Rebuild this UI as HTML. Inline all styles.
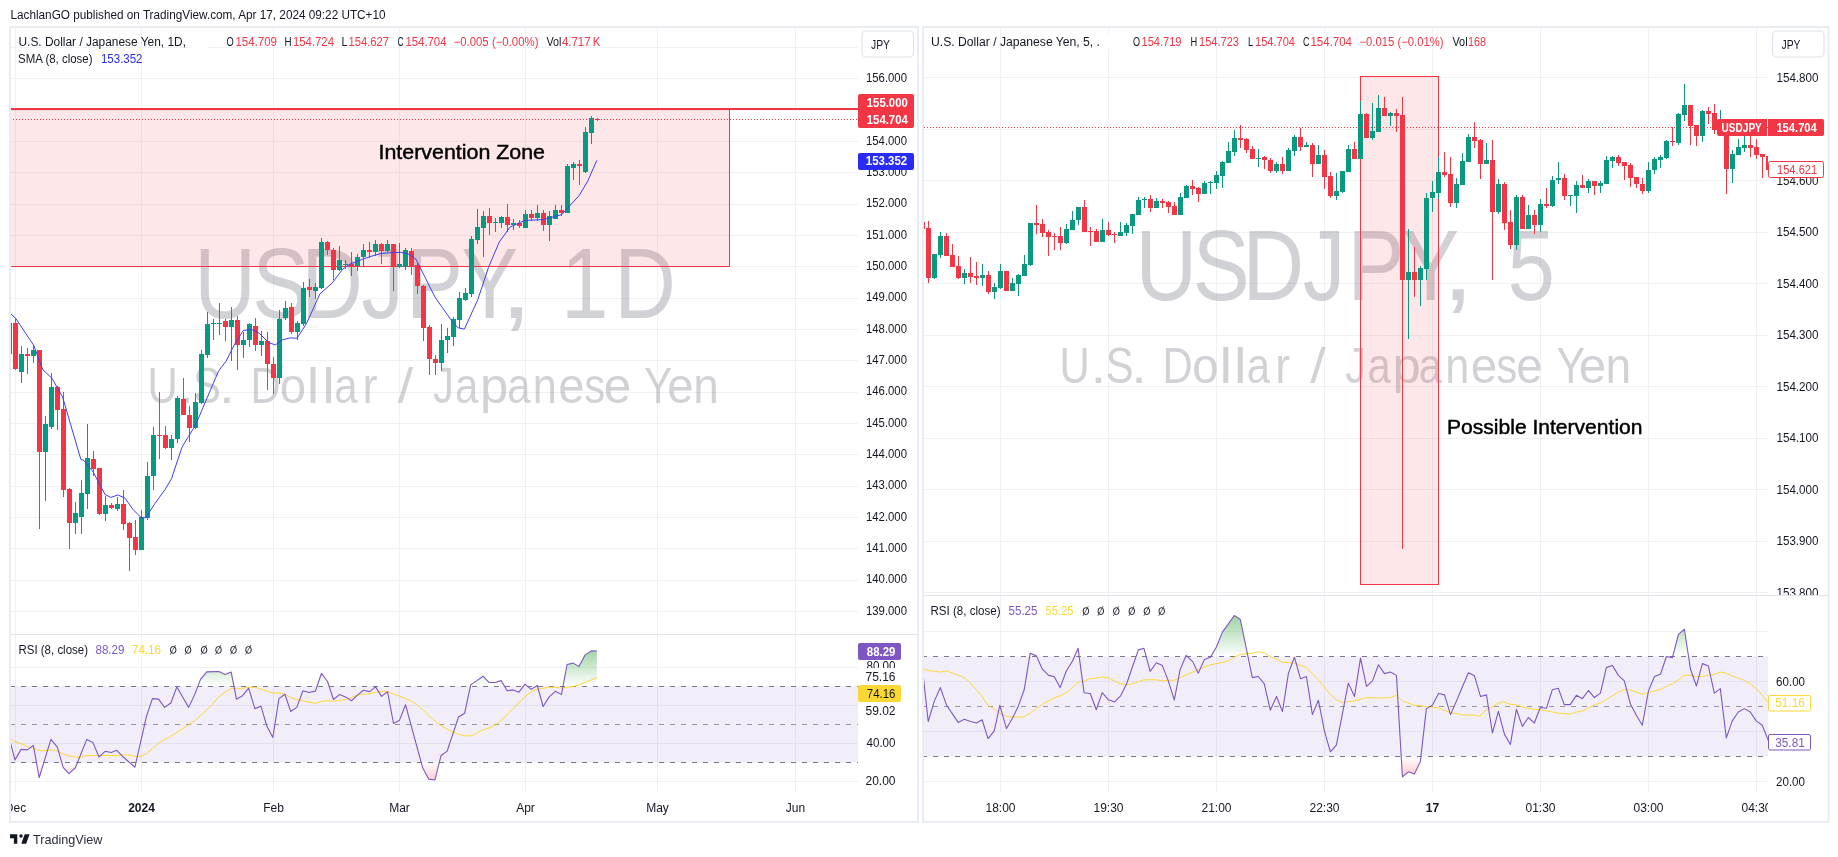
<!DOCTYPE html><html><head><meta charset="utf-8"><style>html,body{margin:0;padding:0;background:#fff;overflow:hidden}svg{display:block;will-change:transform}</style></head><body><svg width="1838" height="857" viewBox="0 0 1838 857" font-family="&quot;Liberation Sans&quot;, sans-serif">
<rect x="0" y="0" width="1838" height="857" fill="#ffffff"/>
<defs>
<clipPath id="cl"><rect x="10" y="28" width="848" height="606"/></clipPath>
<clipPath id="clr"><rect x="10" y="635" width="848" height="158"/></clipPath>
<clipPath id="cr"><rect x="924" y="28" width="844" height="567"/></clipPath>
<clipPath id="crr"><rect x="924" y="597" width="844" height="196"/></clipPath>
<linearGradient id="gg" x1="0" y1="0" x2="0" y2="1"><stop offset="0" stop-color="#4CAF50" stop-opacity="0.55"/><stop offset="1" stop-color="#4CAF50" stop-opacity="0"/></linearGradient>
<linearGradient id="rg" x1="0" y1="0" x2="0" y2="1"><stop offset="0" stop-color="#F23645" stop-opacity="0"/><stop offset="1" stop-color="#F23645" stop-opacity="0.35"/></linearGradient>
</defs>
<line x1="15.5" y1="28" x2="15.5" y2="793" stroke="#F0F1F3" stroke-width="1"/>
<line x1="141.5" y1="28" x2="141.5" y2="793" stroke="#F0F1F3" stroke-width="1"/>
<line x1="273.5" y1="28" x2="273.5" y2="793" stroke="#F0F1F3" stroke-width="1"/>
<line x1="399.5" y1="28" x2="399.5" y2="793" stroke="#F0F1F3" stroke-width="1"/>
<line x1="525.5" y1="28" x2="525.5" y2="793" stroke="#F0F1F3" stroke-width="1"/>
<line x1="657.5" y1="28" x2="657.5" y2="793" stroke="#F0F1F3" stroke-width="1"/>
<line x1="795.5" y1="28" x2="795.5" y2="793" stroke="#F0F1F3" stroke-width="1"/>
<line x1="10" y1="47.5" x2="858" y2="47.5" stroke="#F0F1F3" stroke-width="1"/>
<line x1="10" y1="78.5" x2="858" y2="78.5" stroke="#F0F1F3" stroke-width="1"/>
<line x1="10" y1="110.5" x2="858" y2="110.5" stroke="#F0F1F3" stroke-width="1"/>
<line x1="10" y1="141.5" x2="858" y2="141.5" stroke="#F0F1F3" stroke-width="1"/>
<line x1="10" y1="172.5" x2="858" y2="172.5" stroke="#F0F1F3" stroke-width="1"/>
<line x1="10" y1="204.5" x2="858" y2="204.5" stroke="#F0F1F3" stroke-width="1"/>
<line x1="10" y1="235.5" x2="858" y2="235.5" stroke="#F0F1F3" stroke-width="1"/>
<line x1="10" y1="266.5" x2="858" y2="266.5" stroke="#F0F1F3" stroke-width="1"/>
<line x1="10" y1="298.5" x2="858" y2="298.5" stroke="#F0F1F3" stroke-width="1"/>
<line x1="10" y1="329.5" x2="858" y2="329.5" stroke="#F0F1F3" stroke-width="1"/>
<line x1="10" y1="360.5" x2="858" y2="360.5" stroke="#F0F1F3" stroke-width="1"/>
<line x1="10" y1="392.5" x2="858" y2="392.5" stroke="#F0F1F3" stroke-width="1"/>
<line x1="10" y1="423.5" x2="858" y2="423.5" stroke="#F0F1F3" stroke-width="1"/>
<line x1="10" y1="454.5" x2="858" y2="454.5" stroke="#F0F1F3" stroke-width="1"/>
<line x1="10" y1="486.5" x2="858" y2="486.5" stroke="#F0F1F3" stroke-width="1"/>
<line x1="10" y1="517.5" x2="858" y2="517.5" stroke="#F0F1F3" stroke-width="1"/>
<line x1="10" y1="548.5" x2="858" y2="548.5" stroke="#F0F1F3" stroke-width="1"/>
<line x1="10" y1="580.5" x2="858" y2="580.5" stroke="#F0F1F3" stroke-width="1"/>
<line x1="10" y1="611.5" x2="858" y2="611.5" stroke="#F0F1F3" stroke-width="1"/>
<line x1="10" y1="667.5" x2="858" y2="667.5" stroke="#F0F1F3" stroke-width="1"/>
<line x1="10" y1="705.5" x2="858" y2="705.5" stroke="#F0F1F3" stroke-width="1"/>
<line x1="10" y1="743.5" x2="858" y2="743.5" stroke="#F0F1F3" stroke-width="1"/>
<line x1="10" y1="781.5" x2="858" y2="781.5" stroke="#F0F1F3" stroke-width="1"/>
<line x1="1000.5" y1="28" x2="1000.5" y2="793" stroke="#F0F1F3" stroke-width="1"/>
<line x1="1108.5" y1="28" x2="1108.5" y2="793" stroke="#F0F1F3" stroke-width="1"/>
<line x1="1216.5" y1="28" x2="1216.5" y2="793" stroke="#F0F1F3" stroke-width="1"/>
<line x1="1324.5" y1="28" x2="1324.5" y2="793" stroke="#F0F1F3" stroke-width="1"/>
<line x1="1432.5" y1="28" x2="1432.5" y2="793" stroke="#F0F1F3" stroke-width="1"/>
<line x1="1540.5" y1="28" x2="1540.5" y2="793" stroke="#F0F1F3" stroke-width="1"/>
<line x1="1648.5" y1="28" x2="1648.5" y2="793" stroke="#F0F1F3" stroke-width="1"/>
<line x1="1756.5" y1="28" x2="1756.5" y2="793" stroke="#F0F1F3" stroke-width="1"/>
<line x1="924" y1="77.5" x2="1768" y2="77.5" stroke="#F0F1F3" stroke-width="1"/>
<line x1="924" y1="129.5" x2="1768" y2="129.5" stroke="#F0F1F3" stroke-width="1"/>
<line x1="924" y1="180.5" x2="1768" y2="180.5" stroke="#F0F1F3" stroke-width="1"/>
<line x1="924" y1="232.5" x2="1768" y2="232.5" stroke="#F0F1F3" stroke-width="1"/>
<line x1="924" y1="283.5" x2="1768" y2="283.5" stroke="#F0F1F3" stroke-width="1"/>
<line x1="924" y1="335.5" x2="1768" y2="335.5" stroke="#F0F1F3" stroke-width="1"/>
<line x1="924" y1="386.5" x2="1768" y2="386.5" stroke="#F0F1F3" stroke-width="1"/>
<line x1="924" y1="438.5" x2="1768" y2="438.5" stroke="#F0F1F3" stroke-width="1"/>
<line x1="924" y1="489.5" x2="1768" y2="489.5" stroke="#F0F1F3" stroke-width="1"/>
<line x1="924" y1="541.5" x2="1768" y2="541.5" stroke="#F0F1F3" stroke-width="1"/>
<line x1="924" y1="592.5" x2="1768" y2="592.5" stroke="#F0F1F3" stroke-width="1"/>
<line x1="924" y1="631.5" x2="1768" y2="631.5" stroke="#F0F1F3" stroke-width="1"/>
<line x1="924" y1="681.5" x2="1768" y2="681.5" stroke="#F0F1F3" stroke-width="1"/>
<line x1="924" y1="731.5" x2="1768" y2="731.5" stroke="#F0F1F3" stroke-width="1"/>
<line x1="924" y1="781.5" x2="1768" y2="781.5" stroke="#F0F1F3" stroke-width="1"/>
<g clip-path="url(#cl)">
<text x="194.37" y="318.3" font-size="100.5" fill="rgba(120,123,134,0.34)" textLength="61.69" lengthAdjust="spacingAndGlyphs">U</text>
<text x="252.19" y="318.3" font-size="100.5" fill="rgba(120,123,134,0.34)" textLength="56.98" lengthAdjust="spacingAndGlyphs">S</text>
<text x="301.35" y="318.3" font-size="100.5" fill="rgba(120,123,134,0.34)" textLength="61.69" lengthAdjust="spacingAndGlyphs">D</text>
<text x="361.19" y="318.3" font-size="100.5" fill="rgba(120,123,134,0.34)" textLength="42.71" lengthAdjust="spacingAndGlyphs">J</text>
<text x="405.94" y="318.3" font-size="100.5" fill="rgba(120,123,134,0.34)" textLength="56.98" lengthAdjust="spacingAndGlyphs">P</text>
<text x="461.24" y="318.3" font-size="100.5" fill="rgba(120,123,134,0.34)" textLength="56.98" lengthAdjust="spacingAndGlyphs">Y</text>
<text x="500.33" y="318.3" font-size="100.5" fill="rgba(120,123,134,0.34)" textLength="32.11" lengthAdjust="spacingAndGlyphs">,</text>
<text x="560.88" y="318.3" font-size="100.5" fill="rgba(120,123,134,0.34)" textLength="47.51" lengthAdjust="spacingAndGlyphs">1</text>
<text x="614.21" y="318.3" font-size="100.5" fill="rgba(120,123,134,0.34)" textLength="61.69" lengthAdjust="spacingAndGlyphs">D</text>
<text x="147.47" y="402.7" font-size="49.2" fill="rgba(120,123,134,0.34)" textLength="30.2" lengthAdjust="spacingAndGlyphs">U</text>
<text x="178.18" y="402.7" font-size="49.2" fill="rgba(120,123,134,0.34)" textLength="15.72" lengthAdjust="spacingAndGlyphs">.</text>
<text x="193.07" y="402.7" font-size="49.2" fill="rgba(120,123,134,0.34)" textLength="27.89" lengthAdjust="spacingAndGlyphs">S</text>
<text x="219.14" y="402.7" font-size="49.2" fill="rgba(120,123,134,0.34)" textLength="15.72" lengthAdjust="spacingAndGlyphs">.</text>
<text x="250.53" y="402.7" font-size="49.2" fill="rgba(120,123,134,0.34)" textLength="30.2" lengthAdjust="spacingAndGlyphs">D</text>
<text x="279.8" y="402.7" font-size="49.2" fill="rgba(120,123,134,0.34)" textLength="26.32" lengthAdjust="spacingAndGlyphs">o</text>
<text x="306.83" y="402.7" font-size="49.2" fill="rgba(120,123,134,0.34)" textLength="12.57" lengthAdjust="spacingAndGlyphs">l</text>
<text x="322.36" y="402.7" font-size="49.2" fill="rgba(120,123,134,0.34)" textLength="12.57" lengthAdjust="spacingAndGlyphs">l</text>
<text x="334.3" y="402.7" font-size="49.2" fill="rgba(120,123,134,0.34)" textLength="23.26" lengthAdjust="spacingAndGlyphs">a</text>
<text x="362.49" y="402.7" font-size="49.2" fill="rgba(120,123,134,0.34)" textLength="15.11" lengthAdjust="spacingAndGlyphs">r</text>
<text x="397.72" y="402.7" font-size="49.2" fill="rgba(120,123,134,0.34)" textLength="15.52" lengthAdjust="spacingAndGlyphs">/</text>
<text x="432.92" y="402.7" font-size="49.2" fill="rgba(120,123,134,0.34)" textLength="20.91" lengthAdjust="spacingAndGlyphs">J</text>
<text x="455.03" y="402.7" font-size="49.2" fill="rgba(120,123,134,0.34)" textLength="23.26" lengthAdjust="spacingAndGlyphs">a</text>
<text x="480.03" y="402.7" font-size="49.2" fill="rgba(120,123,134,0.34)" textLength="28.29" lengthAdjust="spacingAndGlyphs">p</text>
<text x="507.27" y="402.7" font-size="49.2" fill="rgba(120,123,134,0.34)" textLength="23.26" lengthAdjust="spacingAndGlyphs">a</text>
<text x="532.64" y="402.7" font-size="49.2" fill="rgba(120,123,134,0.34)" textLength="24.13" lengthAdjust="spacingAndGlyphs">n</text>
<text x="558.32" y="402.7" font-size="49.2" fill="rgba(120,123,134,0.34)" textLength="26.32" lengthAdjust="spacingAndGlyphs">e</text>
<text x="584.31" y="402.7" font-size="49.2" fill="rgba(120,123,134,0.34)" textLength="20.91" lengthAdjust="spacingAndGlyphs">s</text>
<text x="603.73" y="402.7" font-size="49.2" fill="rgba(120,123,134,0.34)" textLength="27.47" lengthAdjust="spacingAndGlyphs">e</text>
<text x="644.3" y="402.7" font-size="49.2" fill="rgba(120,123,134,0.34)" textLength="27.89" lengthAdjust="spacingAndGlyphs">Y</text>
<text x="667.31" y="402.7" font-size="49.2" fill="rgba(120,123,134,0.34)" textLength="26.32" lengthAdjust="spacingAndGlyphs">e</text>
<text x="693.2" y="402.7" font-size="49.2" fill="rgba(120,123,134,0.34)" textLength="25.56" lengthAdjust="spacingAndGlyphs">n</text>
</g>
<g clip-path="url(#cr)">
<text x="1135.4" y="299.6" font-size="100.5" fill="rgba(120,123,134,0.34)" textLength="61.69" lengthAdjust="spacingAndGlyphs">U</text>
<text x="1192.74" y="299.6" font-size="100.5" fill="rgba(120,123,134,0.34)" textLength="56.98" lengthAdjust="spacingAndGlyphs">S</text>
<text x="1242.38" y="299.6" font-size="100.5" fill="rgba(120,123,134,0.34)" textLength="61.69" lengthAdjust="spacingAndGlyphs">D</text>
<text x="1302.72" y="299.6" font-size="100.5" fill="rgba(120,123,134,0.34)" textLength="42.71" lengthAdjust="spacingAndGlyphs">J</text>
<text x="1347.47" y="299.6" font-size="100.5" fill="rgba(120,123,134,0.34)" textLength="56.98" lengthAdjust="spacingAndGlyphs">P</text>
<text x="1402.25" y="299.6" font-size="100.5" fill="rgba(120,123,134,0.34)" textLength="56.98" lengthAdjust="spacingAndGlyphs">Y</text>
<text x="1441.94" y="299.6" font-size="100.5" fill="rgba(120,123,134,0.34)" textLength="32.11" lengthAdjust="spacingAndGlyphs">,</text>
<text x="1507.56" y="299.6" font-size="100.5" fill="rgba(120,123,134,0.34)" textLength="47.51" lengthAdjust="spacingAndGlyphs">5</text>
<text x="1059.42" y="382.7" font-size="49.2" fill="rgba(120,123,134,0.34)" textLength="30.2" lengthAdjust="spacingAndGlyphs">U</text>
<text x="1090.64" y="382.7" font-size="49.2" fill="rgba(120,123,134,0.34)" textLength="15.72" lengthAdjust="spacingAndGlyphs">.</text>
<text x="1105.7" y="382.7" font-size="49.2" fill="rgba(120,123,134,0.34)" textLength="27.89" lengthAdjust="spacingAndGlyphs">S</text>
<text x="1131.34" y="382.7" font-size="49.2" fill="rgba(120,123,134,0.34)" textLength="15.72" lengthAdjust="spacingAndGlyphs">.</text>
<text x="1162.48" y="382.7" font-size="49.2" fill="rgba(120,123,134,0.34)" textLength="30.2" lengthAdjust="spacingAndGlyphs">D</text>
<text x="1192.32" y="382.7" font-size="49.2" fill="rgba(120,123,134,0.34)" textLength="26.32" lengthAdjust="spacingAndGlyphs">o</text>
<text x="1219.45" y="382.7" font-size="49.2" fill="rgba(120,123,134,0.34)" textLength="12.57" lengthAdjust="spacingAndGlyphs">l</text>
<text x="1233.99" y="382.7" font-size="49.2" fill="rgba(120,123,134,0.34)" textLength="12.57" lengthAdjust="spacingAndGlyphs">l</text>
<text x="1246.73" y="382.7" font-size="49.2" fill="rgba(120,123,134,0.34)" textLength="23.26" lengthAdjust="spacingAndGlyphs">a</text>
<text x="1275.18" y="382.7" font-size="49.2" fill="rgba(120,123,134,0.34)" textLength="14.82" lengthAdjust="spacingAndGlyphs">r</text>
<text x="1310.23" y="382.7" font-size="49.2" fill="rgba(120,123,134,0.34)" textLength="15.52" lengthAdjust="spacingAndGlyphs">/</text>
<text x="1345.37" y="382.7" font-size="49.2" fill="rgba(120,123,134,0.34)" textLength="20.93" lengthAdjust="spacingAndGlyphs">J</text>
<text x="1367.56" y="382.7" font-size="49.2" fill="rgba(120,123,134,0.34)" textLength="23.26" lengthAdjust="spacingAndGlyphs">a</text>
<text x="1392.58" y="382.7" font-size="49.2" fill="rgba(120,123,134,0.34)" textLength="28.17" lengthAdjust="spacingAndGlyphs">p</text>
<text x="1418.8" y="382.7" font-size="49.2" fill="rgba(120,123,134,0.34)" textLength="23.26" lengthAdjust="spacingAndGlyphs">a</text>
<text x="1445.19" y="382.7" font-size="49.2" fill="rgba(120,123,134,0.34)" textLength="24.13" lengthAdjust="spacingAndGlyphs">n</text>
<text x="1470.81" y="382.7" font-size="49.2" fill="rgba(120,123,134,0.34)" textLength="26.42" lengthAdjust="spacingAndGlyphs">e</text>
<text x="1496.25" y="382.7" font-size="49.2" fill="rgba(120,123,134,0.34)" textLength="20.91" lengthAdjust="spacingAndGlyphs">s</text>
<text x="1516.32" y="382.7" font-size="49.2" fill="rgba(120,123,134,0.34)" textLength="26.32" lengthAdjust="spacingAndGlyphs">e</text>
<text x="1556.42" y="382.7" font-size="49.2" fill="rgba(120,123,134,0.34)" textLength="28.64" lengthAdjust="spacingAndGlyphs">Y</text>
<text x="1578.77" y="382.7" font-size="49.2" fill="rgba(120,123,134,0.34)" textLength="27.47" lengthAdjust="spacingAndGlyphs">e</text>
<text x="1605.58" y="382.7" font-size="49.2" fill="rgba(120,123,134,0.34)" textLength="25.7" lengthAdjust="spacingAndGlyphs">n</text>
</g>
<rect x="10" y="109" width="719" height="157" fill="rgba(242,54,69,0.12)"/>
<line x1="729.5" y1="109" x2="729.5" y2="266.5" stroke="#F23645" stroke-width="1"/>
<line x1="10" y1="266.5" x2="729.5" y2="266.5" stroke="#F23645" stroke-width="1"/>
<rect x="1360.5" y="76.5" width="78" height="508" fill="rgba(242,54,69,0.12)" stroke="#F23645" stroke-width="1"/>
<rect x="10" y="686" width="848" height="76.5" fill="rgba(126,87,194,0.1)"/>
<line x1="10" y1="686.5" x2="858" y2="686.5" stroke="#787B86" stroke-width="1" stroke-dasharray="5 6"/>
<line x1="10" y1="724.5" x2="858" y2="724.5" stroke="#9598A1" stroke-width="1" stroke-dasharray="5 6"/>
<line x1="10" y1="762.5" x2="858" y2="762.5" stroke="#787B86" stroke-width="1" stroke-dasharray="5 6"/>
<rect x="924" y="656.5" width="844" height="100" fill="rgba(126,87,194,0.1)"/>
<line x1="922" y1="656.5" x2="1768" y2="656.5" stroke="#787B86" stroke-width="1" stroke-dasharray="5 6"/>
<line x1="922" y1="706.5" x2="1768" y2="706.5" stroke="#9598A1" stroke-width="1" stroke-dasharray="5 6"/>
<line x1="922" y1="756.5" x2="1768" y2="756.5" stroke="#787B86" stroke-width="1" stroke-dasharray="5 6"/>
<g clip-path="url(#cl)">
<rect x="9" y="323" width="1" height="31" fill="#089981"/>
<rect x="7" y="323" width="5" height="31" fill="#089981"/>
<rect x="15" y="318" width="1" height="52" fill="#F23645"/>
<rect x="13" y="323" width="5" height="46" fill="#F23645"/>
<rect x="21" y="346" width="1" height="37" fill="#089981"/>
<rect x="19" y="354" width="5" height="18" fill="#089981"/>
<rect x="27" y="348" width="1" height="26" fill="#F23645"/>
<rect x="25" y="354" width="5" height="2" fill="#F23645"/>
<rect x="33" y="345" width="1" height="18" fill="#089981"/>
<rect x="31" y="350" width="5" height="6" fill="#089981"/>
<rect x="39" y="350" width="1" height="179" fill="#F23645"/>
<rect x="37" y="350" width="5" height="102" fill="#F23645"/>
<rect x="45" y="416" width="1" height="85" fill="#089981"/>
<rect x="43" y="424" width="5" height="28" fill="#089981"/>
<rect x="51" y="373" width="1" height="56" fill="#089981"/>
<rect x="49" y="387" width="5" height="40" fill="#089981"/>
<rect x="57" y="386" width="1" height="44" fill="#F23645"/>
<rect x="55" y="387" width="5" height="23" fill="#F23645"/>
<rect x="63" y="392" width="1" height="105" fill="#F23645"/>
<rect x="61" y="409" width="5" height="81" fill="#F23645"/>
<rect x="69" y="488" width="1" height="61" fill="#F23645"/>
<rect x="67" y="489" width="5" height="34" fill="#F23645"/>
<rect x="75" y="502" width="1" height="32" fill="#089981"/>
<rect x="73" y="513" width="5" height="10" fill="#089981"/>
<rect x="81" y="480" width="1" height="54" fill="#089981"/>
<rect x="79" y="493" width="5" height="24" fill="#089981"/>
<rect x="87" y="424" width="1" height="85" fill="#089981"/>
<rect x="85" y="458" width="5" height="36" fill="#089981"/>
<rect x="93" y="451" width="1" height="25" fill="#F23645"/>
<rect x="91" y="459" width="5" height="10" fill="#F23645"/>
<rect x="99" y="468" width="1" height="47" fill="#F23645"/>
<rect x="97" y="468" width="5" height="46" fill="#F23645"/>
<rect x="105" y="496" width="1" height="25" fill="#089981"/>
<rect x="103" y="505" width="5" height="9" fill="#089981"/>
<rect x="111" y="503" width="1" height="6" fill="#F23645"/>
<rect x="109" y="505" width="5" height="3" fill="#F23645"/>
<rect x="117" y="497" width="1" height="14" fill="#089981"/>
<rect x="115" y="504" width="5" height="5" fill="#089981"/>
<rect x="123" y="490" width="1" height="40" fill="#F23645"/>
<rect x="121" y="504" width="5" height="20" fill="#F23645"/>
<rect x="129" y="522" width="1" height="49" fill="#F23645"/>
<rect x="127" y="523" width="5" height="15" fill="#F23645"/>
<rect x="135" y="520" width="1" height="35" fill="#F23645"/>
<rect x="133" y="537" width="5" height="13" fill="#F23645"/>
<rect x="141" y="510" width="1" height="40" fill="#089981"/>
<rect x="139" y="517" width="5" height="33" fill="#089981"/>
<rect x="147" y="462" width="1" height="58" fill="#089981"/>
<rect x="145" y="476" width="5" height="42" fill="#089981"/>
<rect x="153" y="427" width="1" height="63" fill="#089981"/>
<rect x="151" y="435" width="5" height="41" fill="#089981"/>
<rect x="159" y="392" width="1" height="67" fill="#F23645"/>
<rect x="157" y="435" width="5" height="1" fill="#F23645"/>
<rect x="165" y="426" width="1" height="23" fill="#F23645"/>
<rect x="163" y="435" width="5" height="13" fill="#F23645"/>
<rect x="171" y="435" width="1" height="25" fill="#089981"/>
<rect x="169" y="439" width="5" height="9" fill="#089981"/>
<rect x="177" y="396" width="1" height="47" fill="#089981"/>
<rect x="175" y="398" width="5" height="41" fill="#089981"/>
<rect x="183" y="378" width="1" height="37" fill="#F23645"/>
<rect x="181" y="399" width="5" height="16" fill="#F23645"/>
<rect x="189" y="406" width="1" height="36" fill="#F23645"/>
<rect x="187" y="415" width="5" height="13" fill="#F23645"/>
<rect x="195" y="393" width="1" height="36" fill="#089981"/>
<rect x="193" y="402" width="5" height="26" fill="#089981"/>
<rect x="201" y="350" width="1" height="54" fill="#089981"/>
<rect x="199" y="354" width="5" height="49" fill="#089981"/>
<rect x="207" y="312" width="1" height="46" fill="#089981"/>
<rect x="205" y="324" width="5" height="31" fill="#089981"/>
<rect x="213" y="319" width="1" height="21" fill="#089981"/>
<rect x="211" y="323" width="5" height="1" fill="#089981"/>
<rect x="219" y="303" width="1" height="32" fill="#089981"/>
<rect x="217" y="323" width="5" height="1" fill="#089981"/>
<rect x="225" y="319" width="1" height="22" fill="#F23645"/>
<rect x="223" y="321" width="5" height="6" fill="#F23645"/>
<rect x="231" y="307" width="1" height="54" fill="#089981"/>
<rect x="229" y="320" width="5" height="7" fill="#089981"/>
<rect x="237" y="316" width="1" height="54" fill="#F23645"/>
<rect x="235" y="320" width="5" height="25" fill="#F23645"/>
<rect x="243" y="332" width="1" height="26" fill="#089981"/>
<rect x="241" y="340" width="5" height="5" fill="#089981"/>
<rect x="249" y="323" width="1" height="24" fill="#089981"/>
<rect x="247" y="324" width="5" height="16" fill="#089981"/>
<rect x="255" y="318" width="1" height="33" fill="#F23645"/>
<rect x="253" y="326" width="5" height="19" fill="#F23645"/>
<rect x="261" y="331" width="1" height="25" fill="#089981"/>
<rect x="259" y="341" width="5" height="4" fill="#089981"/>
<rect x="267" y="332" width="1" height="58" fill="#F23645"/>
<rect x="265" y="341" width="5" height="23" fill="#F23645"/>
<rect x="273" y="357" width="1" height="37" fill="#F23645"/>
<rect x="271" y="364" width="5" height="14" fill="#F23645"/>
<rect x="279" y="310" width="1" height="74" fill="#089981"/>
<rect x="277" y="319" width="5" height="59" fill="#089981"/>
<rect x="285" y="301" width="1" height="19" fill="#089981"/>
<rect x="283" y="308" width="5" height="10" fill="#089981"/>
<rect x="291" y="303" width="1" height="31" fill="#F23645"/>
<rect x="289" y="307" width="5" height="25" fill="#F23645"/>
<rect x="297" y="321" width="1" height="19" fill="#089981"/>
<rect x="295" y="323" width="5" height="9" fill="#089981"/>
<rect x="303" y="282" width="1" height="44" fill="#089981"/>
<rect x="301" y="288" width="5" height="36" fill="#089981"/>
<rect x="309" y="279" width="1" height="18" fill="#F23645"/>
<rect x="307" y="287" width="5" height="3" fill="#F23645"/>
<rect x="315" y="283" width="1" height="16" fill="#089981"/>
<rect x="313" y="287" width="5" height="4" fill="#089981"/>
<rect x="321" y="238" width="1" height="51" fill="#089981"/>
<rect x="319" y="242" width="5" height="46" fill="#089981"/>
<rect x="327" y="241" width="1" height="14" fill="#F23645"/>
<rect x="325" y="242" width="5" height="8" fill="#F23645"/>
<rect x="333" y="248" width="1" height="32" fill="#F23645"/>
<rect x="331" y="250" width="5" height="20" fill="#F23645"/>
<rect x="339" y="246" width="1" height="25" fill="#089981"/>
<rect x="337" y="260" width="5" height="10" fill="#089981"/>
<rect x="345" y="260" width="1" height="9" fill="#089981"/>
<rect x="343" y="264" width="5" height="1" fill="#089981"/>
<rect x="351" y="252" width="1" height="24" fill="#F23645"/>
<rect x="349" y="264" width="5" height="2" fill="#F23645"/>
<rect x="357" y="254" width="1" height="17" fill="#089981"/>
<rect x="355" y="257" width="5" height="9" fill="#089981"/>
<rect x="363" y="244" width="1" height="22" fill="#089981"/>
<rect x="361" y="250" width="5" height="7" fill="#089981"/>
<rect x="369" y="242" width="1" height="16" fill="#F23645"/>
<rect x="367" y="250" width="5" height="2" fill="#F23645"/>
<rect x="375" y="240" width="1" height="16" fill="#089981"/>
<rect x="373" y="244" width="5" height="8" fill="#089981"/>
<rect x="381" y="243" width="1" height="21" fill="#F23645"/>
<rect x="379" y="244" width="5" height="7" fill="#F23645"/>
<rect x="387" y="240" width="1" height="12" fill="#089981"/>
<rect x="385" y="244" width="5" height="7" fill="#089981"/>
<rect x="393" y="244" width="1" height="47" fill="#F23645"/>
<rect x="391" y="244" width="5" height="23" fill="#F23645"/>
<rect x="399" y="243" width="1" height="25" fill="#089981"/>
<rect x="397" y="264" width="5" height="3" fill="#089981"/>
<rect x="405" y="248" width="1" height="22" fill="#089981"/>
<rect x="403" y="250" width="5" height="17" fill="#089981"/>
<rect x="411" y="248" width="1" height="27" fill="#F23645"/>
<rect x="409" y="251" width="5" height="16" fill="#F23645"/>
<rect x="417" y="263" width="1" height="31" fill="#F23645"/>
<rect x="415" y="265" width="5" height="21" fill="#F23645"/>
<rect x="423" y="285" width="1" height="56" fill="#F23645"/>
<rect x="421" y="286" width="5" height="42" fill="#F23645"/>
<rect x="429" y="325" width="1" height="50" fill="#F23645"/>
<rect x="427" y="327" width="5" height="32" fill="#F23645"/>
<rect x="435" y="355" width="1" height="20" fill="#F23645"/>
<rect x="433" y="359" width="5" height="4" fill="#F23645"/>
<rect x="441" y="324" width="1" height="47" fill="#089981"/>
<rect x="439" y="340" width="5" height="23" fill="#089981"/>
<rect x="447" y="328" width="1" height="25" fill="#089981"/>
<rect x="445" y="336" width="5" height="4" fill="#089981"/>
<rect x="453" y="317" width="1" height="29" fill="#089981"/>
<rect x="451" y="319" width="5" height="18" fill="#089981"/>
<rect x="459" y="292" width="1" height="36" fill="#089981"/>
<rect x="457" y="298" width="5" height="22" fill="#089981"/>
<rect x="465" y="288" width="1" height="13" fill="#089981"/>
<rect x="463" y="293" width="5" height="7" fill="#089981"/>
<rect x="471" y="236" width="1" height="61" fill="#089981"/>
<rect x="469" y="239" width="5" height="55" fill="#089981"/>
<rect x="477" y="209" width="1" height="35" fill="#089981"/>
<rect x="475" y="227" width="5" height="13" fill="#089981"/>
<rect x="483" y="211" width="1" height="46" fill="#089981"/>
<rect x="481" y="216" width="5" height="12" fill="#089981"/>
<rect x="489" y="208" width="1" height="27" fill="#F23645"/>
<rect x="487" y="216" width="5" height="7" fill="#F23645"/>
<rect x="495" y="218" width="1" height="14" fill="#089981"/>
<rect x="493" y="222" width="5" height="1" fill="#089981"/>
<rect x="501" y="216" width="1" height="12" fill="#089981"/>
<rect x="499" y="217" width="5" height="6" fill="#089981"/>
<rect x="507" y="204" width="1" height="28" fill="#F23645"/>
<rect x="505" y="217" width="5" height="8" fill="#F23645"/>
<rect x="513" y="219" width="1" height="11" fill="#089981"/>
<rect x="511" y="223" width="5" height="2" fill="#089981"/>
<rect x="519" y="220" width="1" height="8" fill="#F23645"/>
<rect x="517" y="223" width="5" height="3" fill="#F23645"/>
<rect x="525" y="210" width="1" height="18" fill="#089981"/>
<rect x="523" y="214" width="5" height="14" fill="#089981"/>
<rect x="531" y="210" width="1" height="11" fill="#F23645"/>
<rect x="529" y="214" width="5" height="4" fill="#F23645"/>
<rect x="537" y="205" width="1" height="16" fill="#089981"/>
<rect x="535" y="213" width="5" height="5" fill="#089981"/>
<rect x="543" y="210" width="1" height="21" fill="#F23645"/>
<rect x="541" y="213" width="5" height="12" fill="#F23645"/>
<rect x="549" y="211" width="1" height="30" fill="#089981"/>
<rect x="547" y="216" width="5" height="9" fill="#089981"/>
<rect x="555" y="205" width="1" height="14" fill="#089981"/>
<rect x="553" y="210" width="5" height="9" fill="#089981"/>
<rect x="561" y="205" width="1" height="11" fill="#F23645"/>
<rect x="559" y="210" width="5" height="3" fill="#F23645"/>
<rect x="567" y="164" width="1" height="49" fill="#089981"/>
<rect x="565" y="166" width="5" height="47" fill="#089981"/>
<rect x="573" y="162" width="1" height="18" fill="#089981"/>
<rect x="571" y="164" width="5" height="4" fill="#089981"/>
<rect x="579" y="160" width="1" height="25" fill="#F23645"/>
<rect x="577" y="164" width="5" height="2" fill="#F23645"/>
<rect x="585" y="127" width="1" height="46" fill="#089981"/>
<rect x="583" y="132" width="5" height="40" fill="#089981"/>
<rect x="591" y="116" width="1" height="28" fill="#089981"/>
<rect x="589" y="118" width="5" height="15" fill="#089981"/>
<rect x="597" y="118" width="1" height="3" fill="#F23645"/>
<rect x="595" y="119" width="5" height="1" fill="#F23645"/>
</g>
<g clip-path="url(#cr)">
<rect x="922" y="222" width="1" height="7" fill="#F23645"/>
<rect x="920" y="222" width="5" height="7" fill="#F23645"/>
<rect x="928" y="221" width="1" height="62" fill="#F23645"/>
<rect x="926" y="228" width="5" height="50" fill="#F23645"/>
<rect x="934" y="254" width="1" height="25" fill="#089981"/>
<rect x="932" y="254" width="5" height="24" fill="#089981"/>
<rect x="940" y="232" width="1" height="26" fill="#089981"/>
<rect x="938" y="236" width="5" height="19" fill="#089981"/>
<rect x="946" y="233" width="1" height="23" fill="#F23645"/>
<rect x="944" y="236" width="5" height="20" fill="#F23645"/>
<rect x="952" y="244" width="1" height="23" fill="#F23645"/>
<rect x="950" y="255" width="5" height="12" fill="#F23645"/>
<rect x="958" y="256" width="1" height="23" fill="#F23645"/>
<rect x="956" y="266" width="5" height="12" fill="#F23645"/>
<rect x="964" y="269" width="1" height="15" fill="#089981"/>
<rect x="962" y="273" width="5" height="5" fill="#089981"/>
<rect x="970" y="257" width="1" height="26" fill="#F23645"/>
<rect x="968" y="273" width="5" height="4" fill="#F23645"/>
<rect x="976" y="262" width="1" height="23" fill="#F23645"/>
<rect x="974" y="276" width="5" height="2" fill="#F23645"/>
<rect x="982" y="264" width="1" height="22" fill="#089981"/>
<rect x="980" y="275" width="5" height="3" fill="#089981"/>
<rect x="988" y="271" width="1" height="23" fill="#F23645"/>
<rect x="986" y="275" width="5" height="17" fill="#F23645"/>
<rect x="994" y="283" width="1" height="16" fill="#089981"/>
<rect x="992" y="287" width="5" height="5" fill="#089981"/>
<rect x="1000" y="264" width="1" height="25" fill="#089981"/>
<rect x="998" y="271" width="5" height="17" fill="#089981"/>
<rect x="1006" y="271" width="1" height="20" fill="#F23645"/>
<rect x="1004" y="271" width="5" height="20" fill="#F23645"/>
<rect x="1012" y="278" width="1" height="13" fill="#089981"/>
<rect x="1010" y="283" width="5" height="8" fill="#089981"/>
<rect x="1018" y="274" width="1" height="22" fill="#089981"/>
<rect x="1016" y="275" width="5" height="9" fill="#089981"/>
<rect x="1024" y="255" width="1" height="21" fill="#089981"/>
<rect x="1022" y="264" width="5" height="12" fill="#089981"/>
<rect x="1030" y="223" width="1" height="43" fill="#089981"/>
<rect x="1028" y="223" width="5" height="42" fill="#089981"/>
<rect x="1036" y="205" width="1" height="29" fill="#F23645"/>
<rect x="1034" y="223" width="5" height="2" fill="#F23645"/>
<rect x="1042" y="219" width="1" height="18" fill="#F23645"/>
<rect x="1040" y="224" width="5" height="9" fill="#F23645"/>
<rect x="1048" y="230" width="1" height="26" fill="#F23645"/>
<rect x="1046" y="232" width="5" height="5" fill="#F23645"/>
<rect x="1054" y="233" width="1" height="17" fill="#F23645"/>
<rect x="1052" y="236" width="5" height="1" fill="#F23645"/>
<rect x="1060" y="227" width="1" height="23" fill="#F23645"/>
<rect x="1058" y="236" width="5" height="7" fill="#F23645"/>
<rect x="1066" y="224" width="1" height="20" fill="#089981"/>
<rect x="1064" y="229" width="5" height="14" fill="#089981"/>
<rect x="1072" y="211" width="1" height="19" fill="#089981"/>
<rect x="1070" y="220" width="5" height="10" fill="#089981"/>
<rect x="1078" y="207" width="1" height="18" fill="#089981"/>
<rect x="1076" y="207" width="5" height="13" fill="#089981"/>
<rect x="1084" y="200" width="1" height="32" fill="#F23645"/>
<rect x="1082" y="207" width="5" height="25" fill="#F23645"/>
<rect x="1090" y="227" width="1" height="19" fill="#F23645"/>
<rect x="1088" y="231" width="5" height="1" fill="#F23645"/>
<rect x="1096" y="229" width="1" height="13" fill="#F23645"/>
<rect x="1094" y="231" width="5" height="11" fill="#F23645"/>
<rect x="1102" y="219" width="1" height="23" fill="#089981"/>
<rect x="1100" y="230" width="5" height="12" fill="#089981"/>
<rect x="1108" y="222" width="1" height="14" fill="#F23645"/>
<rect x="1106" y="230" width="5" height="5" fill="#F23645"/>
<rect x="1114" y="232" width="1" height="11" fill="#F23645"/>
<rect x="1112" y="234" width="5" height="1" fill="#F23645"/>
<rect x="1120" y="222" width="1" height="14" fill="#089981"/>
<rect x="1118" y="232" width="5" height="4" fill="#089981"/>
<rect x="1126" y="223" width="1" height="13" fill="#089981"/>
<rect x="1124" y="225" width="5" height="8" fill="#089981"/>
<rect x="1132" y="214" width="1" height="20" fill="#089981"/>
<rect x="1130" y="214" width="5" height="12" fill="#089981"/>
<rect x="1138" y="197" width="1" height="18" fill="#089981"/>
<rect x="1136" y="200" width="5" height="15" fill="#089981"/>
<rect x="1144" y="197" width="1" height="11" fill="#089981"/>
<rect x="1142" y="199" width="5" height="1" fill="#089981"/>
<rect x="1150" y="195" width="1" height="17" fill="#F23645"/>
<rect x="1148" y="199" width="5" height="9" fill="#F23645"/>
<rect x="1156" y="198" width="1" height="10" fill="#089981"/>
<rect x="1154" y="201" width="5" height="7" fill="#089981"/>
<rect x="1162" y="199" width="1" height="9" fill="#F23645"/>
<rect x="1160" y="201" width="5" height="2" fill="#F23645"/>
<rect x="1168" y="201" width="1" height="12" fill="#F23645"/>
<rect x="1166" y="202" width="5" height="5" fill="#F23645"/>
<rect x="1174" y="202" width="1" height="13" fill="#F23645"/>
<rect x="1172" y="206" width="5" height="9" fill="#F23645"/>
<rect x="1180" y="193" width="1" height="22" fill="#089981"/>
<rect x="1178" y="197" width="5" height="18" fill="#089981"/>
<rect x="1186" y="185" width="1" height="13" fill="#089981"/>
<rect x="1184" y="186" width="5" height="12" fill="#089981"/>
<rect x="1192" y="180" width="1" height="15" fill="#F23645"/>
<rect x="1190" y="186" width="5" height="3" fill="#F23645"/>
<rect x="1198" y="187" width="1" height="15" fill="#F23645"/>
<rect x="1196" y="188" width="5" height="6" fill="#F23645"/>
<rect x="1204" y="181" width="1" height="13" fill="#089981"/>
<rect x="1202" y="183" width="5" height="11" fill="#089981"/>
<rect x="1210" y="181" width="1" height="13" fill="#089981"/>
<rect x="1208" y="182" width="5" height="1" fill="#089981"/>
<rect x="1216" y="171" width="1" height="18" fill="#089981"/>
<rect x="1214" y="175" width="5" height="8" fill="#089981"/>
<rect x="1222" y="161" width="1" height="27" fill="#089981"/>
<rect x="1220" y="162" width="5" height="14" fill="#089981"/>
<rect x="1228" y="142" width="1" height="21" fill="#089981"/>
<rect x="1226" y="151" width="5" height="12" fill="#089981"/>
<rect x="1234" y="130" width="1" height="26" fill="#089981"/>
<rect x="1232" y="138" width="5" height="14" fill="#089981"/>
<rect x="1240" y="125" width="1" height="23" fill="#F23645"/>
<rect x="1238" y="138" width="5" height="2" fill="#F23645"/>
<rect x="1246" y="138" width="1" height="15" fill="#F23645"/>
<rect x="1244" y="139" width="5" height="11" fill="#F23645"/>
<rect x="1252" y="146" width="1" height="13" fill="#F23645"/>
<rect x="1250" y="149" width="5" height="10" fill="#F23645"/>
<rect x="1258" y="149" width="1" height="18" fill="#089981"/>
<rect x="1256" y="158" width="5" height="1" fill="#089981"/>
<rect x="1264" y="156" width="1" height="13" fill="#F23645"/>
<rect x="1262" y="157" width="5" height="3" fill="#F23645"/>
<rect x="1270" y="158" width="1" height="15" fill="#F23645"/>
<rect x="1268" y="160" width="5" height="11" fill="#F23645"/>
<rect x="1276" y="162" width="1" height="11" fill="#089981"/>
<rect x="1274" y="164" width="5" height="7" fill="#089981"/>
<rect x="1282" y="157" width="1" height="17" fill="#F23645"/>
<rect x="1280" y="164" width="5" height="7" fill="#F23645"/>
<rect x="1288" y="148" width="1" height="23" fill="#089981"/>
<rect x="1286" y="150" width="5" height="21" fill="#089981"/>
<rect x="1294" y="135" width="1" height="21" fill="#089981"/>
<rect x="1292" y="137" width="5" height="14" fill="#089981"/>
<rect x="1300" y="128" width="1" height="23" fill="#F23645"/>
<rect x="1298" y="137" width="5" height="10" fill="#F23645"/>
<rect x="1306" y="142" width="1" height="5" fill="#089981"/>
<rect x="1304" y="145" width="5" height="2" fill="#089981"/>
<rect x="1312" y="143" width="1" height="34" fill="#F23645"/>
<rect x="1310" y="145" width="5" height="19" fill="#F23645"/>
<rect x="1318" y="145" width="1" height="19" fill="#089981"/>
<rect x="1316" y="155" width="5" height="9" fill="#089981"/>
<rect x="1324" y="150" width="1" height="39" fill="#F23645"/>
<rect x="1322" y="155" width="5" height="22" fill="#F23645"/>
<rect x="1330" y="172" width="1" height="26" fill="#F23645"/>
<rect x="1328" y="176" width="5" height="20" fill="#F23645"/>
<rect x="1336" y="173" width="1" height="27" fill="#089981"/>
<rect x="1334" y="191" width="5" height="5" fill="#089981"/>
<rect x="1342" y="171" width="1" height="22" fill="#089981"/>
<rect x="1340" y="171" width="5" height="21" fill="#089981"/>
<rect x="1348" y="145" width="1" height="27" fill="#089981"/>
<rect x="1346" y="149" width="5" height="23" fill="#089981"/>
<rect x="1354" y="142" width="1" height="17" fill="#F23645"/>
<rect x="1352" y="149" width="5" height="10" fill="#F23645"/>
<rect x="1360" y="101" width="1" height="58" fill="#089981"/>
<rect x="1358" y="114" width="5" height="45" fill="#089981"/>
<rect x="1366" y="113" width="1" height="25" fill="#F23645"/>
<rect x="1364" y="114" width="5" height="24" fill="#F23645"/>
<rect x="1372" y="103" width="1" height="37" fill="#089981"/>
<rect x="1370" y="131" width="5" height="7" fill="#089981"/>
<rect x="1378" y="95" width="1" height="37" fill="#089981"/>
<rect x="1376" y="108" width="5" height="24" fill="#089981"/>
<rect x="1384" y="97" width="1" height="19" fill="#F23645"/>
<rect x="1382" y="108" width="5" height="8" fill="#F23645"/>
<rect x="1390" y="112" width="1" height="14" fill="#089981"/>
<rect x="1388" y="113" width="5" height="3" fill="#089981"/>
<rect x="1396" y="109" width="1" height="23" fill="#F23645"/>
<rect x="1394" y="113" width="5" height="3" fill="#F23645"/>
<rect x="1402" y="97" width="1" height="452" fill="#F23645"/>
<rect x="1400" y="115" width="5" height="165" fill="#F23645"/>
<rect x="1408" y="229" width="1" height="110" fill="#089981"/>
<rect x="1406" y="272" width="5" height="8" fill="#089981"/>
<rect x="1414" y="247" width="1" height="50" fill="#F23645"/>
<rect x="1412" y="272" width="5" height="8" fill="#F23645"/>
<rect x="1420" y="266" width="1" height="40" fill="#089981"/>
<rect x="1418" y="268" width="5" height="12" fill="#089981"/>
<rect x="1426" y="193" width="1" height="87" fill="#089981"/>
<rect x="1424" y="198" width="5" height="71" fill="#089981"/>
<rect x="1432" y="181" width="1" height="31" fill="#089981"/>
<rect x="1430" y="192" width="5" height="6" fill="#089981"/>
<rect x="1438" y="157" width="1" height="42" fill="#089981"/>
<rect x="1436" y="172" width="5" height="21" fill="#089981"/>
<rect x="1444" y="152" width="1" height="25" fill="#F23645"/>
<rect x="1442" y="172" width="5" height="3" fill="#F23645"/>
<rect x="1450" y="157" width="1" height="50" fill="#F23645"/>
<rect x="1448" y="174" width="5" height="29" fill="#F23645"/>
<rect x="1456" y="178" width="1" height="30" fill="#089981"/>
<rect x="1454" y="184" width="5" height="19" fill="#089981"/>
<rect x="1462" y="153" width="1" height="32" fill="#089981"/>
<rect x="1460" y="161" width="5" height="24" fill="#089981"/>
<rect x="1468" y="134" width="1" height="28" fill="#089981"/>
<rect x="1466" y="137" width="5" height="25" fill="#089981"/>
<rect x="1474" y="122" width="1" height="26" fill="#F23645"/>
<rect x="1472" y="137" width="5" height="4" fill="#F23645"/>
<rect x="1480" y="139" width="1" height="40" fill="#F23645"/>
<rect x="1478" y="140" width="5" height="24" fill="#F23645"/>
<rect x="1486" y="143" width="1" height="21" fill="#089981"/>
<rect x="1484" y="160" width="5" height="4" fill="#089981"/>
<rect x="1492" y="140" width="1" height="140" fill="#F23645"/>
<rect x="1490" y="160" width="5" height="52" fill="#F23645"/>
<rect x="1498" y="179" width="1" height="35" fill="#089981"/>
<rect x="1496" y="184" width="5" height="28" fill="#089981"/>
<rect x="1504" y="182" width="1" height="48" fill="#F23645"/>
<rect x="1502" y="184" width="5" height="39" fill="#F23645"/>
<rect x="1510" y="210" width="1" height="39" fill="#F23645"/>
<rect x="1508" y="222" width="5" height="23" fill="#F23645"/>
<rect x="1516" y="195" width="1" height="55" fill="#089981"/>
<rect x="1514" y="197" width="5" height="48" fill="#089981"/>
<rect x="1522" y="195" width="1" height="34" fill="#F23645"/>
<rect x="1520" y="197" width="5" height="32" fill="#F23645"/>
<rect x="1528" y="205" width="1" height="24" fill="#089981"/>
<rect x="1526" y="215" width="5" height="14" fill="#089981"/>
<rect x="1534" y="210" width="1" height="24" fill="#F23645"/>
<rect x="1532" y="215" width="5" height="10" fill="#F23645"/>
<rect x="1540" y="199" width="1" height="33" fill="#089981"/>
<rect x="1538" y="204" width="5" height="21" fill="#089981"/>
<rect x="1546" y="188" width="1" height="20" fill="#F23645"/>
<rect x="1544" y="204" width="5" height="2" fill="#F23645"/>
<rect x="1552" y="176" width="1" height="31" fill="#089981"/>
<rect x="1550" y="180" width="5" height="26" fill="#089981"/>
<rect x="1558" y="162" width="1" height="22" fill="#089981"/>
<rect x="1556" y="178" width="5" height="2" fill="#089981"/>
<rect x="1564" y="174" width="1" height="26" fill="#F23645"/>
<rect x="1562" y="178" width="5" height="18" fill="#F23645"/>
<rect x="1570" y="195" width="1" height="11" fill="#089981"/>
<rect x="1568" y="195" width="5" height="1" fill="#089981"/>
<rect x="1576" y="181" width="1" height="32" fill="#089981"/>
<rect x="1574" y="185" width="5" height="11" fill="#089981"/>
<rect x="1582" y="175" width="1" height="13" fill="#F23645"/>
<rect x="1580" y="185" width="5" height="3" fill="#F23645"/>
<rect x="1588" y="179" width="1" height="14" fill="#089981"/>
<rect x="1586" y="181" width="5" height="7" fill="#089981"/>
<rect x="1594" y="181" width="1" height="14" fill="#F23645"/>
<rect x="1592" y="181" width="5" height="5" fill="#F23645"/>
<rect x="1600" y="181" width="1" height="12" fill="#089981"/>
<rect x="1598" y="183" width="5" height="3" fill="#089981"/>
<rect x="1606" y="156" width="1" height="28" fill="#089981"/>
<rect x="1604" y="160" width="5" height="24" fill="#089981"/>
<rect x="1612" y="156" width="1" height="12" fill="#089981"/>
<rect x="1610" y="157" width="5" height="4" fill="#089981"/>
<rect x="1618" y="155" width="1" height="11" fill="#F23645"/>
<rect x="1616" y="157" width="5" height="6" fill="#F23645"/>
<rect x="1624" y="162" width="1" height="18" fill="#F23645"/>
<rect x="1622" y="162" width="5" height="4" fill="#F23645"/>
<rect x="1630" y="163" width="1" height="24" fill="#F23645"/>
<rect x="1628" y="165" width="5" height="13" fill="#F23645"/>
<rect x="1636" y="177" width="1" height="11" fill="#F23645"/>
<rect x="1634" y="177" width="5" height="7" fill="#F23645"/>
<rect x="1642" y="178" width="1" height="16" fill="#F23645"/>
<rect x="1640" y="184" width="5" height="7" fill="#F23645"/>
<rect x="1648" y="162" width="1" height="31" fill="#089981"/>
<rect x="1646" y="170" width="5" height="21" fill="#089981"/>
<rect x="1654" y="157" width="1" height="17" fill="#089981"/>
<rect x="1652" y="159" width="5" height="11" fill="#089981"/>
<rect x="1660" y="155" width="1" height="13" fill="#089981"/>
<rect x="1658" y="157" width="5" height="3" fill="#089981"/>
<rect x="1666" y="140" width="1" height="19" fill="#089981"/>
<rect x="1664" y="141" width="5" height="17" fill="#089981"/>
<rect x="1672" y="127" width="1" height="19" fill="#F23645"/>
<rect x="1670" y="141" width="5" height="1" fill="#F23645"/>
<rect x="1678" y="113" width="1" height="32" fill="#089981"/>
<rect x="1676" y="114" width="5" height="29" fill="#089981"/>
<rect x="1684" y="84" width="1" height="37" fill="#089981"/>
<rect x="1682" y="105" width="5" height="10" fill="#089981"/>
<rect x="1690" y="105" width="1" height="40" fill="#F23645"/>
<rect x="1688" y="105" width="5" height="21" fill="#F23645"/>
<rect x="1696" y="125" width="1" height="21" fill="#F23645"/>
<rect x="1694" y="125" width="5" height="11" fill="#F23645"/>
<rect x="1702" y="110" width="1" height="32" fill="#089981"/>
<rect x="1700" y="111" width="5" height="25" fill="#089981"/>
<rect x="1708" y="107" width="1" height="17" fill="#F23645"/>
<rect x="1706" y="111" width="5" height="3" fill="#F23645"/>
<rect x="1714" y="104" width="1" height="30" fill="#F23645"/>
<rect x="1712" y="113" width="5" height="17" fill="#F23645"/>
<rect x="1720" y="110" width="1" height="23" fill="#089981"/>
<rect x="1718" y="122" width="5" height="4" fill="#089981"/>
<rect x="1726" y="120" width="1" height="74" fill="#F23645"/>
<rect x="1724" y="120" width="5" height="49" fill="#F23645"/>
<rect x="1732" y="150" width="1" height="33" fill="#089981"/>
<rect x="1730" y="154" width="5" height="15" fill="#089981"/>
<rect x="1738" y="139" width="1" height="16" fill="#089981"/>
<rect x="1736" y="147" width="5" height="8" fill="#089981"/>
<rect x="1744" y="136" width="1" height="16" fill="#089981"/>
<rect x="1742" y="145" width="5" height="3" fill="#089981"/>
<rect x="1750" y="136" width="1" height="21" fill="#F23645"/>
<rect x="1748" y="145" width="5" height="3" fill="#F23645"/>
<rect x="1756" y="139" width="1" height="20" fill="#F23645"/>
<rect x="1754" y="147" width="5" height="8" fill="#F23645"/>
<rect x="1762" y="154" width="1" height="24" fill="#F23645"/>
<rect x="1760" y="154" width="5" height="3" fill="#F23645"/>
<rect x="1768" y="156" width="1" height="14" fill="#F23645"/>
<rect x="1766" y="156" width="5" height="14" fill="#F23645"/>
</g>
<g clip-path="url(#cl)">
<polyline points="9.5,312.7 15.6,318.2 33.8,345.5 42.9,369.8 52,378.3 62.6,397 80.8,459.3 84,460.5 93.3,472.2 105,494.4 110.8,497.4 117.8,495 124.8,497.9 133,509.5 141.2,517.7 145.8,517.7 154,504.9 165.2,489.2 171.5,478.7 182,447.2 188.3,436.7 193.6,428.3 197.8,419.9 203.1,407.3 212.5,385.2 218.8,370.5 226.2,361 234.6,344.2 243.2,330.6 251.3,329.3 259.3,333.3 268.7,342.7 275.4,344.9 282.1,340 289.9,337.9 297.1,338.2 306.5,323.5 319.9,293.9 332,283.2 342.7,269.2 349.4,264.4 361.5,259.6 370.9,256.4 380.3,253.7 387,252.9 400.4,252.3 408,253.9 416,259.3 424.1,275.4 434.8,296.9 450.9,319.7 457.7,327.7 464.4,329.1 477.8,299.6 488.5,267.4 499.3,241.9 510,227.1 520.7,222.3 525,220.4 543.4,219.6 561.8,214.6 569.6,205.9 579.3,195.4 588,180.5 596.8,160.4" fill="none" stroke="#4040F0" stroke-width="1" stroke-linejoin="round"/>
</g>
<g clip-path="url(#clr)">
<linearGradient id="clrgg" gradientUnits="userSpaceOnUse" x1="0" y1="645" x2="0" y2="686.5"><stop offset="0" stop-color="#4CAF50" stop-opacity="0.6"/><stop offset="1" stop-color="#4CAF50" stop-opacity="0"/></linearGradient>
<linearGradient id="clrrg" gradientUnits="userSpaceOnUse" x1="0" y1="762.5" x2="0" y2="804"><stop offset="0" stop-color="#F23645" stop-opacity="0"/><stop offset="1" stop-color="#F23645" stop-opacity="0.6"/></linearGradient>
<clipPath id="clrg"><rect x="0" y="0" width="1838" height="686.5"/></clipPath>
<clipPath id="clrr"><rect x="0" y="762.5" width="1838" height="100"/></clipPath>
<path d="M10.63,743.27 L15,759.9 L21.13,749.4 L27.25,749.92 L33.38,745.37 L39.16,777.76 L50.88,739.42 L57.36,747.12 L63.14,767.43 L68.91,773.56 L75.39,767.78 L86.77,739.42 L92.89,742.4 L99.02,756.93 L105.15,751.33 L111.27,752.55 L116.87,750.27 L123.53,757.28 L134.9,767.25 L146.28,717.02 L152.41,698.64 L158.53,699.16 L164.66,707.39 L170.79,703.01 L176.91,686.91 L183.04,697.76 L188.64,707.39 L194.42,695.14 L200.54,679.38 L206.67,671.86 L218.92,671.51 L225.05,674.48 L231.18,672.03 L236.43,699.16 L242.55,695.66 L248.68,688.14 L254.81,708.62 L260.93,706.16 L266.71,725.77 L272.83,737.5 L278.96,698.64 L284.91,694.26 L290.69,711.42 L296.81,707.39 L302.94,690.76 L309.07,692.51 L315.19,691.11 L315.51,690.76 L321.5,673.26 L327.5,681.48 L333.5,699.51 L339.51,694.61 L345.51,696.89 L351.5,700.74 L357.5,695.14 L363.5,690.24 L369.51,691.64 L375.51,686.91 L381.52,696.36 L387.52,691.64 L393.51,723.49 L399.51,720.17 L405.51,704.76 L422.65,767.78 L428.78,779.16 L434.9,780.03 L441.03,755.53 L447.16,751.15 L458.53,717.02 L464.66,713.17 L470.79,684.64 L476.91,680.61 L483.04,676.23 L489.17,682.53 L495.29,682.53 L501.07,680.61 L507.19,690.76 L513.15,689.89 L518.92,692.16 L525.05,684.11 L531.18,689.36 L537.3,685.51 L543.08,706.51 L549.2,696.89 L555.33,691.29 L561.46,694.61 L567.06,664.51 L573.18,663.11 L578.96,666.61 L585.09,654.88 L591.21,650.85 L596.81,651.03 L596.81,686.5 L10.63,686.5 Z" fill="url(#clrgg)" clip-path="url(#clrg)"/>
<path d="M10.63,743.27 L15,759.9 L21.13,749.4 L27.25,749.92 L33.38,745.37 L39.16,777.76 L50.88,739.42 L57.36,747.12 L63.14,767.43 L68.91,773.56 L75.39,767.78 L86.77,739.42 L92.89,742.4 L99.02,756.93 L105.15,751.33 L111.27,752.55 L116.87,750.27 L123.53,757.28 L134.9,767.25 L146.28,717.02 L152.41,698.64 L158.53,699.16 L164.66,707.39 L170.79,703.01 L176.91,686.91 L183.04,697.76 L188.64,707.39 L194.42,695.14 L200.54,679.38 L206.67,671.86 L218.92,671.51 L225.05,674.48 L231.18,672.03 L236.43,699.16 L242.55,695.66 L248.68,688.14 L254.81,708.62 L260.93,706.16 L266.71,725.77 L272.83,737.5 L278.96,698.64 L284.91,694.26 L290.69,711.42 L296.81,707.39 L302.94,690.76 L309.07,692.51 L315.19,691.11 L315.51,690.76 L321.5,673.26 L327.5,681.48 L333.5,699.51 L339.51,694.61 L345.51,696.89 L351.5,700.74 L357.5,695.14 L363.5,690.24 L369.51,691.64 L375.51,686.91 L381.52,696.36 L387.52,691.64 L393.51,723.49 L399.51,720.17 L405.51,704.76 L422.65,767.78 L428.78,779.16 L434.9,780.03 L441.03,755.53 L447.16,751.15 L458.53,717.02 L464.66,713.17 L470.79,684.64 L476.91,680.61 L483.04,676.23 L489.17,682.53 L495.29,682.53 L501.07,680.61 L507.19,690.76 L513.15,689.89 L518.92,692.16 L525.05,684.11 L531.18,689.36 L537.3,685.51 L543.08,706.51 L549.2,696.89 L555.33,691.29 L561.46,694.61 L567.06,664.51 L573.18,663.11 L578.96,666.61 L585.09,654.88 L591.21,650.85 L596.81,651.03 L596.81,762.5 L10.63,762.5 Z" fill="url(#clrrg)" clip-path="url(#clrr)"/>
</g>
<g clip-path="url(#crr)">
<linearGradient id="crrgg" gradientUnits="userSpaceOnUse" x1="0" y1="612" x2="0" y2="656.5"><stop offset="0" stop-color="#4CAF50" stop-opacity="0.6"/><stop offset="1" stop-color="#4CAF50" stop-opacity="0"/></linearGradient>
<linearGradient id="crrrg" gradientUnits="userSpaceOnUse" x1="0" y1="756.5" x2="0" y2="801"><stop offset="0" stop-color="#F23645" stop-opacity="0"/><stop offset="1" stop-color="#F23645" stop-opacity="0.6"/></linearGradient>
<clipPath id="crrg"><rect x="0" y="0" width="1838" height="656.5"/></clipPath>
<clipPath id="crrr"><rect x="0" y="756.5" width="1838" height="100"/></clipPath>
<path d="M923.33,676.49 L928.2,721.49 L934.41,700.88 L940.4,687.57 L946.6,705.31 L952.59,714.18 L958.35,722.6 L964.34,719.28 L970.55,721.49 L976.53,723.05 L982.08,719.72 L988.06,738.57 L994.27,730.81 L999.81,705.31 L1006.46,728.59 L1012.45,718.17 L1018.22,706.42 L1024.2,689.79 L1030.19,653.21 L1036.4,655.87 L1042.38,669.17 L1048.59,675.38 L1054.13,676.49 L1060.12,687.57 L1066.33,670.95 L1072.53,660.97 L1078.08,648.33 L1084.06,692.67 L1090.27,693.56 L1096.26,709.74 L1102.24,692.67 L1108.45,699.77 L1114.44,701.98 L1120.64,695.78 L1126.63,683.8 L1132.39,666.95 L1138.38,649.88 L1143.92,648.33 L1150.13,671.39 L1156.34,662.74 L1162.32,665.4 L1168.31,680.92 L1174.3,700.21 L1180.06,669.84 L1186.05,655.43 L1192.7,661.63 L1198.24,673.16 L1204.43,659.42 L1210.42,657.2 L1216.41,647 L1222.39,632.15 L1234.36,615.52 L1240.35,619.51 L1252.32,677.6 L1258.31,676.49 L1264.29,683.8 L1270.28,710.19 L1276.49,696.44 L1282.47,711.52 L1288.46,673.16 L1294.45,657.2 L1300.43,678.71 L1306.42,676.49 L1312.4,714.62 L1318.39,700.21 L1324.38,730.81 L1330.36,751.87 L1336.35,745.22 L1348.32,683.14 L1354.53,696.44 L1360.51,658.09 L1366.5,686.46 L1372.49,680.92 L1378.47,664.74 L1384.46,673.61 L1390.44,672.05 L1396.43,675.38 L1402.42,776.92 L1408.4,771.82 L1414.39,774.04 L1420.37,761.4 L1426.36,708.64 L1432.35,705.31 L1438.55,693.56 L1444.54,694.89 L1450.53,714.62 L1456.51,700.88 L1462.5,686.46 L1468.48,672.72 L1474.47,675.82 L1480.46,696.44 L1480.44,696.44 L1486.43,694.89 L1492.42,733.02 L1498.4,711.3 L1504.39,734.13 L1510.37,744.55 L1516.36,709.3 L1522.35,726.37 L1528.33,717.5 L1534.32,723.05 L1540.3,707.53 L1546.51,708.19 L1552.28,689.79 L1558.26,688.24 L1564.25,704.64 L1570.23,704.64 L1576.44,695.33 L1582.43,698.66 L1588.41,690.46 L1594.4,697.55 L1600.39,693.12 L1606.37,667.62 L1612.36,665.4 L1618.34,675.38 L1624.33,680.92 L1630.32,703.76 L1636.3,715.29 L1642.29,725.26 L1648.5,690.9 L1654.48,676.49 L1660.47,674.27 L1666.45,656.53 L1672.44,657.64 L1678.43,634.36 L1684.41,629.27 L1690.4,668.73 L1696.38,686.02 L1702.37,663.63 L1708.36,666.07 L1714.34,693.12 L1720.33,688.68 L1726.31,737.9 L1732.3,720.83 L1738.29,711.96 L1744.27,708.64 L1750.26,711.96 L1756.24,720.83 L1762.23,725.26 L1768.44,740.78 L1768.44,656.5 L923.33,656.5 Z" fill="url(#crrgg)" clip-path="url(#crrg)"/>
<path d="M923.33,676.49 L928.2,721.49 L934.41,700.88 L940.4,687.57 L946.6,705.31 L952.59,714.18 L958.35,722.6 L964.34,719.28 L970.55,721.49 L976.53,723.05 L982.08,719.72 L988.06,738.57 L994.27,730.81 L999.81,705.31 L1006.46,728.59 L1012.45,718.17 L1018.22,706.42 L1024.2,689.79 L1030.19,653.21 L1036.4,655.87 L1042.38,669.17 L1048.59,675.38 L1054.13,676.49 L1060.12,687.57 L1066.33,670.95 L1072.53,660.97 L1078.08,648.33 L1084.06,692.67 L1090.27,693.56 L1096.26,709.74 L1102.24,692.67 L1108.45,699.77 L1114.44,701.98 L1120.64,695.78 L1126.63,683.8 L1132.39,666.95 L1138.38,649.88 L1143.92,648.33 L1150.13,671.39 L1156.34,662.74 L1162.32,665.4 L1168.31,680.92 L1174.3,700.21 L1180.06,669.84 L1186.05,655.43 L1192.7,661.63 L1198.24,673.16 L1204.43,659.42 L1210.42,657.2 L1216.41,647 L1222.39,632.15 L1234.36,615.52 L1240.35,619.51 L1252.32,677.6 L1258.31,676.49 L1264.29,683.8 L1270.28,710.19 L1276.49,696.44 L1282.47,711.52 L1288.46,673.16 L1294.45,657.2 L1300.43,678.71 L1306.42,676.49 L1312.4,714.62 L1318.39,700.21 L1324.38,730.81 L1330.36,751.87 L1336.35,745.22 L1348.32,683.14 L1354.53,696.44 L1360.51,658.09 L1366.5,686.46 L1372.49,680.92 L1378.47,664.74 L1384.46,673.61 L1390.44,672.05 L1396.43,675.38 L1402.42,776.92 L1408.4,771.82 L1414.39,774.04 L1420.37,761.4 L1426.36,708.64 L1432.35,705.31 L1438.55,693.56 L1444.54,694.89 L1450.53,714.62 L1456.51,700.88 L1462.5,686.46 L1468.48,672.72 L1474.47,675.82 L1480.46,696.44 L1480.44,696.44 L1486.43,694.89 L1492.42,733.02 L1498.4,711.3 L1504.39,734.13 L1510.37,744.55 L1516.36,709.3 L1522.35,726.37 L1528.33,717.5 L1534.32,723.05 L1540.3,707.53 L1546.51,708.19 L1552.28,689.79 L1558.26,688.24 L1564.25,704.64 L1570.23,704.64 L1576.44,695.33 L1582.43,698.66 L1588.41,690.46 L1594.4,697.55 L1600.39,693.12 L1606.37,667.62 L1612.36,665.4 L1618.34,675.38 L1624.33,680.92 L1630.32,703.76 L1636.3,715.29 L1642.29,725.26 L1648.5,690.9 L1654.48,676.49 L1660.47,674.27 L1666.45,656.53 L1672.44,657.64 L1678.43,634.36 L1684.41,629.27 L1690.4,668.73 L1696.38,686.02 L1702.37,663.63 L1708.36,666.07 L1714.34,693.12 L1720.33,688.68 L1726.31,737.9 L1732.3,720.83 L1738.29,711.96 L1744.27,708.64 L1750.26,711.96 L1756.24,720.83 L1762.23,725.26 L1768.44,740.78 L1768.44,756.5 L923.33,756.5 Z" fill="url(#crrrg)" clip-path="url(#crrr)"/>
</g>
<g clip-path="url(#clr)">
<polyline points="10.63,738.9 15,741.87 21.13,743.62 27.25,746.42 33.38,748.52 39.16,750.62 45.63,750.8 50.88,749.75 57.36,751.15 63.14,753.78 68.91,755.88 75.39,757.28 81.52,756.93 86.77,755.53 99.02,755.53 111.27,755.53 116.87,755.88 123.53,754.83 128.78,755 134.9,756.4 141.03,756.4 146.28,753.78 152.41,748.52 158.53,743.27 164.66,739.42 170.79,736.27 176.91,732.42 183.04,728.39 188.64,724.89 194.42,720.87 200.54,715.62 206.67,710.02 212.8,703.89 218.92,696.89 225.05,691.99 231.18,688.66 236.43,688.49 242.55,688.31 248.68,687.26 254.81,687.26 260.93,689.01 266.71,691.11 272.83,692.86 278.96,693.04 284.91,694.26 290.69,697.41 296.81,699.51 302.94,700.91 309.07,702.14 315.19,703.36 315.51,703.36 321.13,701.61 327.25,700.74 333.38,701.26 339.51,700.39 345.63,699.51 351.76,697.41 357.01,695.14 363.14,694.26 369.26,693.91 375.39,692.16 381.52,691.29 387.29,691.64 392.89,693.91 399.02,696.01 404.8,698.29 411.27,701.26 417.4,704.76 423.53,710.37 429.65,716.14 435.43,721.39 441.38,725.77 447.51,729.27 453.46,732.25 459.58,734.52 465.54,735.92 471.49,735.75 477.44,732.77 483.56,729.62 489.52,727.87 495.47,724.89 501.59,720.17 507.54,714.39 513.5,708.27 519.45,702.14 525.57,696.36 531.53,691.64 537.48,689.01 543.6,688.14 549.55,687.26 555.51,687.26 561.46,688.14 567.58,687.26 573.53,686.39 579.49,684.64 585.61,682.01 591.56,679.91 596.81,677.63" fill="none" stroke="#FDD835" stroke-width="1" stroke-linejoin="round"/>
<polyline points="10.63,743.27 15,759.9 21.13,749.4 27.25,749.92 33.38,745.37 39.16,777.76 50.88,739.42 57.36,747.12 63.14,767.43 68.91,773.56 75.39,767.78 86.77,739.42 92.89,742.4 99.02,756.93 105.15,751.33 111.27,752.55 116.87,750.27 123.53,757.28 134.9,767.25 146.28,717.02 152.41,698.64 158.53,699.16 164.66,707.39 170.79,703.01 176.91,686.91 183.04,697.76 188.64,707.39 194.42,695.14 200.54,679.38 206.67,671.86 218.92,671.51 225.05,674.48 231.18,672.03 236.43,699.16 242.55,695.66 248.68,688.14 254.81,708.62 260.93,706.16 266.71,725.77 272.83,737.5 278.96,698.64 284.91,694.26 290.69,711.42 296.81,707.39 302.94,690.76 309.07,692.51 315.19,691.11 315.51,690.76 321.5,673.26 327.5,681.48 333.5,699.51 339.51,694.61 345.51,696.89 351.5,700.74 357.5,695.14 363.5,690.24 369.51,691.64 375.51,686.91 381.52,696.36 387.52,691.64 393.51,723.49 399.51,720.17 405.51,704.76 422.65,767.78 428.78,779.16 434.9,780.03 441.03,755.53 447.16,751.15 458.53,717.02 464.66,713.17 470.79,684.64 476.91,680.61 483.04,676.23 489.17,682.53 495.29,682.53 501.07,680.61 507.19,690.76 513.15,689.89 518.92,692.16 525.05,684.11 531.18,689.36 537.3,685.51 543.08,706.51 549.2,696.89 555.33,691.29 561.46,694.61 567.06,664.51 573.18,663.11 578.96,666.61 585.09,654.88 591.21,650.85 596.81,651.03" fill="none" stroke="#7E57C2" stroke-width="1.1" stroke-linejoin="round"/>
</g>
<g clip-path="url(#crr)">
<polyline points="923.33,669.17 928.2,670.5 934.41,671.39 940.4,672.05 946.6,670.95 952.59,673.16 958.35,674.94 964.34,677.6 970.55,683.14 976.53,689.79 982.08,696.44 988.06,705.31 994.27,709.08 999.81,713.07 1006.46,716.4 1012.45,717.06 1018.22,717.06 1024.2,716.84 1030.19,713.07 1036.4,708.64 1042.38,704.2 1048.59,700.88 1054.13,697.99 1060.12,695.78 1066.33,692.67 1072.53,687.57 1078.08,682.47 1084.06,680.92 1090.27,678.71 1096.26,678.04 1102.24,677.15 1108.45,677.6 1114.44,680.92 1120.64,683.8 1126.63,684.69 1132.39,683.8 1138.38,681.59 1143.92,679.81 1150.13,679.81 1156.34,679.81 1162.32,680.92 1168.31,680.26 1174.3,680.26 1180.06,677.6 1186.05,674.94 1192.7,672.05 1198.24,669.84 1210.42,664.74 1222.39,662.52 1228.38,660.97 1234.36,657.2 1240.35,654.32 1252.32,653.21 1258.31,651.66 1264.29,652.77 1270.28,656.53 1282.47,662.08 1294.45,663.19 1306.42,667.62 1318.39,679.81 1330.36,694.22 1336.35,699.77 1342.33,702.43 1354.53,700.88 1366.5,697.55 1378.47,697.99 1390.44,697.55 1396.43,695.33 1402.42,700.88 1414.39,705.31 1426.36,706.42 1438.55,707.97 1444.54,710.41 1450.53,712.63 1462.5,714.84 1474.47,715.29 1480.46,716.4 1480.44,715.73 1485.99,709.74 1492.19,706.86 1498.18,703.09 1503.94,701.54 1509.93,704.2 1515.92,704.64 1522.12,706.86 1528.11,708.64 1534.32,709.3 1540.3,709.74 1546.51,710.85 1552.28,711.96 1558.26,713.07 1564.25,713.73 1570.23,714.18 1576.44,711.96 1582.43,710.85 1588.41,708.19 1594.4,704.64 1600.39,703.09 1606.37,699.32 1612.36,695.78 1618.34,692.01 1624.33,689.79 1630.32,689.79 1636.3,692.01 1642.29,694.22 1648.5,692.67 1654.48,690.9 1660.47,689.35 1666.45,686.46 1672.44,683.8 1678.43,679.81 1684.41,675.38 1690.4,675.38 1696.38,676.49 1702.37,676.49 1708.36,675.38 1714.34,674.27 1720.33,672.05 1726.31,673.16 1732.3,676.04 1738.29,678.04 1744.27,680.26 1750.26,683.8 1756.24,688.68 1762.23,695.33 1768.44,703.09" fill="none" stroke="#FDD835" stroke-width="1" stroke-linejoin="round"/>
<polyline points="923.33,676.49 928.2,721.49 934.41,700.88 940.4,687.57 946.6,705.31 952.59,714.18 958.35,722.6 964.34,719.28 970.55,721.49 976.53,723.05 982.08,719.72 988.06,738.57 994.27,730.81 999.81,705.31 1006.46,728.59 1012.45,718.17 1018.22,706.42 1024.2,689.79 1030.19,653.21 1036.4,655.87 1042.38,669.17 1048.59,675.38 1054.13,676.49 1060.12,687.57 1066.33,670.95 1072.53,660.97 1078.08,648.33 1084.06,692.67 1090.27,693.56 1096.26,709.74 1102.24,692.67 1108.45,699.77 1114.44,701.98 1120.64,695.78 1126.63,683.8 1132.39,666.95 1138.38,649.88 1143.92,648.33 1150.13,671.39 1156.34,662.74 1162.32,665.4 1168.31,680.92 1174.3,700.21 1180.06,669.84 1186.05,655.43 1192.7,661.63 1198.24,673.16 1204.43,659.42 1210.42,657.2 1216.41,647 1222.39,632.15 1234.36,615.52 1240.35,619.51 1252.32,677.6 1258.31,676.49 1264.29,683.8 1270.28,710.19 1276.49,696.44 1282.47,711.52 1288.46,673.16 1294.45,657.2 1300.43,678.71 1306.42,676.49 1312.4,714.62 1318.39,700.21 1324.38,730.81 1330.36,751.87 1336.35,745.22 1348.32,683.14 1354.53,696.44 1360.51,658.09 1366.5,686.46 1372.49,680.92 1378.47,664.74 1384.46,673.61 1390.44,672.05 1396.43,675.38 1402.42,776.92 1408.4,771.82 1414.39,774.04 1420.37,761.4 1426.36,708.64 1432.35,705.31 1438.55,693.56 1444.54,694.89 1450.53,714.62 1456.51,700.88 1462.5,686.46 1468.48,672.72 1474.47,675.82 1480.46,696.44 1480.44,696.44 1486.43,694.89 1492.42,733.02 1498.4,711.3 1504.39,734.13 1510.37,744.55 1516.36,709.3 1522.35,726.37 1528.33,717.5 1534.32,723.05 1540.3,707.53 1546.51,708.19 1552.28,689.79 1558.26,688.24 1564.25,704.64 1570.23,704.64 1576.44,695.33 1582.43,698.66 1588.41,690.46 1594.4,697.55 1600.39,693.12 1606.37,667.62 1612.36,665.4 1618.34,675.38 1624.33,680.92 1630.32,703.76 1636.3,715.29 1642.29,725.26 1648.5,690.9 1654.48,676.49 1660.47,674.27 1666.45,656.53 1672.44,657.64 1678.43,634.36 1684.41,629.27 1690.4,668.73 1696.38,686.02 1702.37,663.63 1708.36,666.07 1714.34,693.12 1720.33,688.68 1726.31,737.9 1732.3,720.83 1738.29,711.96 1744.27,708.64 1750.26,711.96 1756.24,720.83 1762.23,725.26 1768.44,740.78" fill="none" stroke="#7E57C2" stroke-width="1.1" stroke-linejoin="round"/>
</g>
<line x1="10" y1="119.5" x2="858" y2="119.5" stroke="#F23645" stroke-width="1" stroke-dasharray="1 2"/>
<line x1="10" y1="109" x2="858" y2="109" stroke="#F23645" stroke-width="2"/>
<line x1="924" y1="127.5" x2="1768" y2="127.5" stroke="#F23645" stroke-width="1" stroke-dasharray="1 2"/>
<rect x="190" y="35" width="19" height="14" fill="#ffffff"/>
<rect x="1102" y="35" width="20" height="14" fill="#ffffff"/>
<text x="18.5" y="45.5" font-size="12" fill="#131722" textLength="167.5" lengthAdjust="spacingAndGlyphs">U.S. Dollar / Japanese Yen, 1D,</text>
<text x="226.4" y="45.5" font-size="12" fill="#131722" textLength="7.19" lengthAdjust="spacingAndGlyphs">O</text>
<text x="235.47" y="45.5" font-size="12" fill="#F23645" textLength="41.55" lengthAdjust="spacingAndGlyphs">154.709</text>
<text x="284.48" y="45.5" font-size="12" fill="#131722" textLength="7.1" lengthAdjust="spacingAndGlyphs">H</text>
<text x="292.99" y="45.5" font-size="12" fill="#F23645" textLength="41.01" lengthAdjust="spacingAndGlyphs">154.724</text>
<text x="341.48" y="45.5" font-size="12" fill="#131722" textLength="6.12" lengthAdjust="spacingAndGlyphs">L</text>
<text x="348.47" y="45.5" font-size="12" fill="#F23645" textLength="40.54" lengthAdjust="spacingAndGlyphs">154.627</text>
<text x="397.47" y="45.5" font-size="12" fill="#131722" textLength="6.06" lengthAdjust="spacingAndGlyphs">C</text>
<text x="405.48" y="45.5" font-size="12" fill="#F23645" textLength="41.03" lengthAdjust="spacingAndGlyphs">154.704</text>
<text x="453.5" y="45.5" font-size="12" fill="#F23645" textLength="85" lengthAdjust="spacingAndGlyphs">−0.005 (−0.00%)</text>
<text x="546.49" y="45.5" font-size="12" fill="#131722" textLength="15.04" lengthAdjust="spacingAndGlyphs">Vol</text>
<text x="561.98" y="45.5" font-size="12" fill="#F23645" textLength="38.53" lengthAdjust="spacingAndGlyphs">4.717 K</text>
<text x="18" y="62.9" font-size="12" fill="#131722" textLength="74.5" lengthAdjust="spacingAndGlyphs">SMA (8, close)</text>
<text x="100.99" y="62.9" font-size="12" fill="#2A2AF5" textLength="41.52" lengthAdjust="spacingAndGlyphs">153.352</text>
<text x="931" y="45.5" font-size="12" fill="#131722" textLength="169" lengthAdjust="spacingAndGlyphs">U.S. Dollar / Japanese Yen, 5, .</text>
<text x="1132.95" y="45.5" font-size="12" fill="#131722" textLength="7.05" lengthAdjust="spacingAndGlyphs">O</text>
<text x="1141.5" y="45.5" font-size="12" fill="#F23645" textLength="40.02" lengthAdjust="spacingAndGlyphs">154.719</text>
<text x="1190.43" y="45.5" font-size="12" fill="#131722" textLength="6.71" lengthAdjust="spacingAndGlyphs">H</text>
<text x="1198.99" y="45.5" font-size="12" fill="#F23645" textLength="40.02" lengthAdjust="spacingAndGlyphs">154.723</text>
<text x="1247.88" y="45.5" font-size="12" fill="#131722" textLength="5.25" lengthAdjust="spacingAndGlyphs">L</text>
<text x="1255" y="45.5" font-size="12" fill="#F23645" textLength="40" lengthAdjust="spacingAndGlyphs">154.704</text>
<text x="1302.93" y="45.5" font-size="12" fill="#131722" textLength="6.58" lengthAdjust="spacingAndGlyphs">C</text>
<text x="1310.47" y="45.5" font-size="12" fill="#F23645" textLength="41.55" lengthAdjust="spacingAndGlyphs">154.704</text>
<text x="1359.49" y="45.5" font-size="12" fill="#F23645" textLength="84.01" lengthAdjust="spacingAndGlyphs">−0.015 (−0.01%)</text>
<text x="1452.46" y="45.5" font-size="12" fill="#131722" textLength="15.09" lengthAdjust="spacingAndGlyphs">Vol</text>
<text x="1467.96" y="45.5" font-size="12" fill="#F23645" textLength="18.04" lengthAdjust="spacingAndGlyphs">168</text>
<text x="18.49" y="654.2" font-size="12" fill="#131722" textLength="69.51" lengthAdjust="spacingAndGlyphs">RSI (8, close)</text>
<text x="95.48" y="654.2" font-size="12" fill="#7E57C2" textLength="29.03" lengthAdjust="spacingAndGlyphs">88.29</text>
<text x="131.98" y="654.2" font-size="12" fill="#FDD835" textLength="29.06" lengthAdjust="spacingAndGlyphs">74.16</text>
<ellipse cx="173.2" cy="649.9" rx="2.8" ry="3.45" fill="none" stroke="#131722" stroke-width="0.95"/>
<line x1="170.2" y1="654.7" x2="175.6" y2="645" stroke="#131722" stroke-width="0.65"/>
<ellipse cx="188.1" cy="649.9" rx="2.8" ry="3.45" fill="none" stroke="#131722" stroke-width="0.95"/>
<line x1="185.1" y1="654.7" x2="190.5" y2="645" stroke="#131722" stroke-width="0.65"/>
<ellipse cx="204.1" cy="649.9" rx="2.8" ry="3.45" fill="none" stroke="#131722" stroke-width="0.95"/>
<line x1="201.1" y1="654.7" x2="206.5" y2="645" stroke="#131722" stroke-width="0.65"/>
<ellipse cx="218.5" cy="649.9" rx="2.8" ry="3.45" fill="none" stroke="#131722" stroke-width="0.95"/>
<line x1="215.5" y1="654.7" x2="220.9" y2="645" stroke="#131722" stroke-width="0.65"/>
<ellipse cx="233.5" cy="649.9" rx="2.8" ry="3.45" fill="none" stroke="#131722" stroke-width="0.95"/>
<line x1="230.5" y1="654.7" x2="235.9" y2="645" stroke="#131722" stroke-width="0.65"/>
<ellipse cx="248.5" cy="649.9" rx="2.8" ry="3.45" fill="none" stroke="#131722" stroke-width="0.95"/>
<line x1="245.5" y1="654.7" x2="250.9" y2="645" stroke="#131722" stroke-width="0.65"/>
<text x="930.49" y="615.4" font-size="12" fill="#131722" textLength="70.02" lengthAdjust="spacingAndGlyphs">RSI (8, close)</text>
<text x="1008.49" y="615.4" font-size="12" fill="#7E57C2" textLength="29.02" lengthAdjust="spacingAndGlyphs">55.25</text>
<text x="1045.49" y="615.4" font-size="12" fill="#FDD835" textLength="28.02" lengthAdjust="spacingAndGlyphs">55.25</text>
<ellipse cx="1085.9" cy="611.1" rx="2.8" ry="3.45" fill="none" stroke="#131722" stroke-width="0.95"/>
<line x1="1082.9" y1="615.9" x2="1088.3" y2="606.2" stroke="#131722" stroke-width="0.65"/>
<ellipse cx="1100.8" cy="611.1" rx="2.8" ry="3.45" fill="none" stroke="#131722" stroke-width="0.95"/>
<line x1="1097.8" y1="615.9" x2="1103.2" y2="606.2" stroke="#131722" stroke-width="0.65"/>
<ellipse cx="1116.3" cy="611.1" rx="2.8" ry="3.45" fill="none" stroke="#131722" stroke-width="0.95"/>
<line x1="1113.3" y1="615.9" x2="1118.7" y2="606.2" stroke="#131722" stroke-width="0.65"/>
<ellipse cx="1131.8" cy="611.1" rx="2.8" ry="3.45" fill="none" stroke="#131722" stroke-width="0.95"/>
<line x1="1128.8" y1="615.9" x2="1134.2" y2="606.2" stroke="#131722" stroke-width="0.65"/>
<ellipse cx="1146.9" cy="611.1" rx="2.8" ry="3.45" fill="none" stroke="#131722" stroke-width="0.95"/>
<line x1="1143.9" y1="615.9" x2="1149.3" y2="606.2" stroke="#131722" stroke-width="0.65"/>
<ellipse cx="1161.7" cy="611.1" rx="2.8" ry="3.45" fill="none" stroke="#131722" stroke-width="0.95"/>
<line x1="1158.7" y1="615.9" x2="1164.1" y2="606.2" stroke="#131722" stroke-width="0.65"/>
<text x="378.5" y="159" font-size="20.3" fill="#000000" textLength="166.5" lengthAdjust="spacingAndGlyphs" stroke="#000" stroke-width="0.45">Intervention Zone</text>
<text x="1447" y="433.9" font-size="19.9" fill="#000000" textLength="195.51" lengthAdjust="spacingAndGlyphs" stroke="#000" stroke-width="0.45">Possible Intervention</text>
<rect x="858" y="28" width="59" height="606" fill="#ffffff"/>
<text x="865.99" y="82" font-size="12" fill="#131722" textLength="41.01" lengthAdjust="spacingAndGlyphs">156.000</text>
<text x="865.99" y="144.68" font-size="12" fill="#131722" textLength="41.01" lengthAdjust="spacingAndGlyphs">154.000</text>
<text x="865.99" y="176.02" font-size="12" fill="#131722" textLength="41.01" lengthAdjust="spacingAndGlyphs">153.000</text>
<text x="865.99" y="207.36" font-size="12" fill="#131722" textLength="41.01" lengthAdjust="spacingAndGlyphs">152.000</text>
<text x="865.99" y="238.7" font-size="12" fill="#131722" textLength="41.01" lengthAdjust="spacingAndGlyphs">151.000</text>
<text x="865.99" y="270.04" font-size="12" fill="#131722" textLength="41.01" lengthAdjust="spacingAndGlyphs">150.000</text>
<text x="865.99" y="301.38" font-size="12" fill="#131722" textLength="41.01" lengthAdjust="spacingAndGlyphs">149.000</text>
<text x="865.99" y="332.72" font-size="12" fill="#131722" textLength="41.01" lengthAdjust="spacingAndGlyphs">148.000</text>
<text x="865.99" y="364.06" font-size="12" fill="#131722" textLength="41.01" lengthAdjust="spacingAndGlyphs">147.000</text>
<text x="865.99" y="395.4" font-size="12" fill="#131722" textLength="41.01" lengthAdjust="spacingAndGlyphs">146.000</text>
<text x="865.99" y="426.74" font-size="12" fill="#131722" textLength="41.01" lengthAdjust="spacingAndGlyphs">145.000</text>
<text x="865.99" y="458.08" font-size="12" fill="#131722" textLength="41.01" lengthAdjust="spacingAndGlyphs">144.000</text>
<text x="865.99" y="489.42" font-size="12" fill="#131722" textLength="41.01" lengthAdjust="spacingAndGlyphs">143.000</text>
<text x="865.99" y="520.76" font-size="12" fill="#131722" textLength="41.01" lengthAdjust="spacingAndGlyphs">142.000</text>
<text x="865.99" y="552.1" font-size="12" fill="#131722" textLength="41.01" lengthAdjust="spacingAndGlyphs">141.000</text>
<text x="865.99" y="583.44" font-size="12" fill="#131722" textLength="41.01" lengthAdjust="spacingAndGlyphs">140.000</text>
<text x="865.99" y="614.78" font-size="12" fill="#131722" textLength="41.01" lengthAdjust="spacingAndGlyphs">139.000</text>
<rect x="858" y="635" width="59" height="158" fill="#ffffff"/>
<text x="866.5" y="670.3" font-size="12" fill="#131722" textLength="29.02" lengthAdjust="spacingAndGlyphs">80.00</text>
<rect x="858" y="668" width="59" height="16" fill="#ffffff"/>
<text x="865.47" y="680.8" font-size="12" fill="#131722" textLength="30.06" lengthAdjust="spacingAndGlyphs">75.16</text>
<text x="865.47" y="714.6" font-size="12" fill="#131722" textLength="30.06" lengthAdjust="spacingAndGlyphs">59.02</text>
<text x="866.5" y="747.4" font-size="12" fill="#131722" textLength="29.02" lengthAdjust="spacingAndGlyphs">40.00</text>
<text x="865.48" y="785.4" font-size="12" fill="#131722" textLength="30.06" lengthAdjust="spacingAndGlyphs">20.00</text>
<rect x="858" y="94" width="56" height="34" fill="#F23645" rx="2"/>
<text x="866.7" y="115.3" font-size="12" fill="#ffffff" textLength="41.5" lengthAdjust="spacingAndGlyphs"></text>
<text x="866.8" y="107" font-size="12" fill="#ffffff" font-weight="bold" textLength="41.01" lengthAdjust="spacingAndGlyphs">155.000</text>
<text x="866.8" y="123.8" font-size="12" fill="#ffffff" font-weight="bold" textLength="41.01" lengthAdjust="spacingAndGlyphs">154.704</text>
<rect x="858" y="153" width="56" height="17" fill="#2A2AF5" rx="2"/>
<text x="866.7" y="165.8" font-size="12" fill="#ffffff" textLength="41.5" lengthAdjust="spacingAndGlyphs"></text>
<text x="865.78" y="165.4" font-size="12" fill="#ffffff" font-weight="bold" textLength="41.42" lengthAdjust="spacingAndGlyphs">153.352</text>
<rect x="858" y="643" width="43" height="17" fill="#7E57C2" rx="2"/>
<text x="866.7" y="655.8" font-size="12" fill="#ffffff" textLength="41.5" lengthAdjust="spacingAndGlyphs"></text>
<text x="866.79" y="655.8" font-size="12" fill="#ffffff" font-weight="bold" textLength="28.63" lengthAdjust="spacingAndGlyphs">88.29</text>
<rect x="858" y="685" width="43" height="17" fill="#FDD835" rx="2"/>
<text x="866.7" y="697.8" font-size="12" fill="#ffffff" textLength="41.5" lengthAdjust="spacingAndGlyphs"></text>
<text x="866.79" y="697.9" font-size="12" fill="#131722" textLength="28.62" lengthAdjust="spacingAndGlyphs">74.16</text>
<rect x="10" y="793" width="907" height="28" fill="#ffffff"/>
<clipPath id="lta"><rect x="10" y="793" width="848" height="28"/></clipPath>
<g clip-path="url(#lta)">
<text x="15.5" y="812" font-size="12" fill="#131722" text-anchor="middle">Dec</text>
<text x="141.5" y="812" font-size="12" fill="#131722" text-anchor="middle" font-weight="bold">2024</text>
<text x="273.5" y="812" font-size="12" fill="#131722" text-anchor="middle">Feb</text>
<text x="399.5" y="812" font-size="12" fill="#131722" text-anchor="middle">Mar</text>
<text x="525.5" y="812" font-size="12" fill="#131722" text-anchor="middle">Apr</text>
<text x="657.5" y="812" font-size="12" fill="#131722" text-anchor="middle">May</text>
<text x="795.5" y="812" font-size="12" fill="#131722" text-anchor="middle">Jun</text>
</g>
<rect x="1768" y="28" width="60" height="567" fill="#ffffff"/>
<clipPath id="rax"><rect x="1768" y="28" width="60" height="567"/></clipPath>
<g clip-path="url(#rax)">
<text x="1776.49" y="81.8" font-size="12" fill="#131722" textLength="42.01" lengthAdjust="spacingAndGlyphs">154.800</text>
<text x="1776.49" y="184.8" font-size="12" fill="#131722" textLength="42.01" lengthAdjust="spacingAndGlyphs">154.600</text>
<text x="1776.49" y="236.3" font-size="12" fill="#131722" textLength="42.01" lengthAdjust="spacingAndGlyphs">154.500</text>
<text x="1776.49" y="287.8" font-size="12" fill="#131722" textLength="42.01" lengthAdjust="spacingAndGlyphs">154.400</text>
<text x="1776.49" y="339.3" font-size="12" fill="#131722" textLength="42.01" lengthAdjust="spacingAndGlyphs">154.300</text>
<text x="1776.49" y="390.8" font-size="12" fill="#131722" textLength="42.01" lengthAdjust="spacingAndGlyphs">154.200</text>
<text x="1776.49" y="442.3" font-size="12" fill="#131722" textLength="42.01" lengthAdjust="spacingAndGlyphs">154.100</text>
<text x="1776.49" y="493.8" font-size="12" fill="#131722" textLength="42.01" lengthAdjust="spacingAndGlyphs">154.000</text>
<text x="1776.49" y="545.3" font-size="12" fill="#131722" textLength="42.01" lengthAdjust="spacingAndGlyphs">153.900</text>
<text x="1776.49" y="596.8" font-size="12" fill="#131722" textLength="42.01" lengthAdjust="spacingAndGlyphs">153.800</text>
</g>
<rect x="1768" y="597" width="60" height="196" fill="#ffffff"/>
<text x="1776" y="686.4" font-size="12" fill="#131722" textLength="29.03" lengthAdjust="spacingAndGlyphs">60.00</text>
<text x="1775.99" y="786.3" font-size="12" fill="#131722" textLength="29.03" lengthAdjust="spacingAndGlyphs">20.00</text>
<rect x="1768.5" y="695.5" width="42" height="15.5" fill="#ffffff" stroke="#FDD835" stroke-width="1" rx="1.5"/>
<text x="1775.2" y="707.4" font-size="12" fill="#FDD835" textLength="29.62" lengthAdjust="spacingAndGlyphs">51.16</text>
<rect x="1768.5" y="734.5" width="42" height="15.5" fill="#ffffff" stroke="#7E57C2" stroke-width="1" rx="1.5"/>
<text x="1775.2" y="746.8" font-size="12" fill="#7E57C2" textLength="29.62" lengthAdjust="spacingAndGlyphs">35.81</text>
<path d="M1719,119 H1767 V136 H1719 Q1717,136 1717,134 V121 Q1717,119 1719,119 Z" fill="#F23645"/>
<text x="1721.6" y="131.6" font-size="12" fill="#ffffff" font-weight="bold" textLength="40.21" lengthAdjust="spacingAndGlyphs">USDJPY</text>
<path d="M1768,119 H1822 Q1824,119 1824,121 V134 Q1824,136 1822,136 H1768 Z" fill="#F23645"/>
<text x="1776.39" y="131.6" font-size="12" fill="#ffffff" font-weight="bold" textLength="40.41" lengthAdjust="spacingAndGlyphs">154.704</text>
<rect x="1768.5" y="161.5" width="55" height="16" fill="#ffffff" stroke="#F23645" stroke-width="1" rx="2"/>
<text x="1777" y="173.9" font-size="12" fill="#F23645" textLength="40.21" lengthAdjust="spacingAndGlyphs">154.621</text>
<rect x="922" y="793" width="906" height="28" fill="#ffffff"/>
<clipPath id="rta"><rect x="922" y="793" width="846" height="28"/></clipPath>
<g clip-path="url(#rta)">
<text x="1000.5" y="812" font-size="12" fill="#131722" text-anchor="middle">18:00</text>
<text x="1108.5" y="812" font-size="12" fill="#131722" text-anchor="middle">19:30</text>
<text x="1216.5" y="812" font-size="12" fill="#131722" text-anchor="middle">21:00</text>
<text x="1324.5" y="812" font-size="12" fill="#131722" text-anchor="middle">22:30</text>
<text x="1432.5" y="812" font-size="12" fill="#131722" text-anchor="middle" font-weight="bold">17</text>
<text x="1540.5" y="812" font-size="12" fill="#131722" text-anchor="middle">01:30</text>
<text x="1648.5" y="812" font-size="12" fill="#131722" text-anchor="middle">03:00</text>
<text x="1756.5" y="812" font-size="12" fill="#131722" text-anchor="middle">04:30</text>
</g>
<rect x="862" y="31" width="51.5" height="26" rx="4" fill="#ffffff" stroke="#E0E3EB" stroke-width="1.2"/>
<text x="871" y="48.7" font-size="12" fill="#131722" textLength="19" lengthAdjust="spacingAndGlyphs">JPY</text>
<rect x="1772.5" y="31" width="51.5" height="26" rx="4" fill="#ffffff" stroke="#E0E3EB" stroke-width="1.2"/>
<text x="1781.5" y="48.7" font-size="12" fill="#131722" textLength="19" lengthAdjust="spacingAndGlyphs">JPY</text>
<line x1="9" y1="634.5" x2="919" y2="634.5" stroke="#E0E3EB" stroke-width="1"/>
<line x1="922" y1="595.5" x2="1829" y2="595.5" stroke="#E0E3EB" stroke-width="1"/>
<rect x="10" y="27" width="908" height="795" fill="none" stroke="#E9ECF2" stroke-width="2"/>
<rect x="923" y="27" width="905.5" height="795" fill="none" stroke="#E9ECF2" stroke-width="2"/>
<text x="10.5" y="18.9" font-size="12" fill="#131722" textLength="375.01" lengthAdjust="spacingAndGlyphs">LachlanGO published on TradingView.com, Apr 17, 2024 09:22 UTC+10</text>
<path d="M10,834.3 H17.3 V843.7 H13.9 V838.3 H10 Z" fill="#131722"/>
<circle cx="21" cy="836" r="1.75" fill="#131722"/>
<path d="M24.7,834.3 H29.6 L26.1,843.7 H21.3 Z" fill="#131722"/>
<text x="33" y="843.7" font-size="12.8" fill="#2A2E39" textLength="69.47" lengthAdjust="spacingAndGlyphs">TradingView</text>
</svg></body></html>
